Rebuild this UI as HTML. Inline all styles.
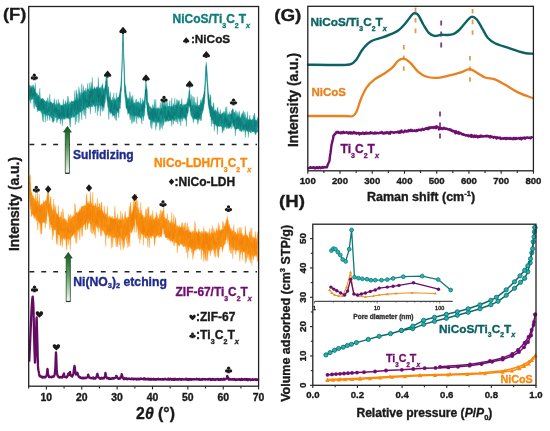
<!DOCTYPE html><html><head><meta charset="utf-8"><style>html,body{margin:0;padding:0;background:#fff;}svg{display:block;filter:blur(0.3px);}</style></head><body><svg width="550" height="431" viewBox="0 0 550 431" font-family='"Liberation Sans", sans-serif' font-weight="bold">
<rect width="550" height="431" fill="#fff"/>
<polygon points="29.30,85.43 29.80,84.95 30.30,85.53 30.80,87.25 31.30,87.13 31.80,85.49 32.30,87.70 32.80,84.98 33.30,84.85 33.80,86.27 34.30,88.01 34.80,89.67 35.30,82.47 35.80,91.94 36.30,92.87 36.80,93.72 37.30,93.40 37.80,94.74 38.30,95.62 38.80,94.98 39.30,97.51 39.80,88.13 40.30,97.11 40.80,99.04 41.30,99.40 41.80,98.40 42.30,98.86 42.80,97.93 43.30,99.06 43.80,99.71 44.30,100.01 44.80,100.90 45.30,101.75 45.80,101.44 46.30,100.23 46.80,101.80 47.30,101.52 47.80,97.53 48.30,100.61 48.80,102.69 49.30,102.56 49.80,93.94 50.30,102.26 50.80,101.51 51.30,102.28 51.80,102.18 52.30,104.15 52.80,103.02 53.30,103.24 53.80,102.34 54.30,98.59 54.80,103.36 55.30,104.99 55.80,104.20 56.30,99.73 56.80,105.12 57.30,103.38 57.80,104.72 58.30,98.88 58.80,104.38 59.30,102.60 59.80,104.50 60.30,104.39 60.80,105.78 61.30,104.87 61.80,105.36 62.30,104.81 62.80,105.60 63.30,99.01 63.80,105.09 64.30,103.68 64.80,104.67 65.30,102.90 65.80,100.24 66.30,104.91 66.80,102.71 67.30,102.32 67.80,95.99 68.30,97.45 68.80,104.37 69.30,103.95 69.80,101.44 70.30,102.31 70.80,103.16 71.30,100.73 71.80,101.19 72.30,101.14 72.80,101.46 73.30,101.07 73.80,101.33 74.30,101.69 74.80,90.74 75.30,99.78 75.80,99.25 76.30,89.58 76.80,93.87 77.30,93.68 77.80,98.29 78.30,98.94 78.80,86.88 79.30,89.93 79.80,92.78 80.30,95.80 80.80,92.24 81.30,93.40 81.80,83.45 82.30,93.40 82.80,92.62 83.30,85.39 83.80,92.24 84.30,90.94 84.80,89.99 85.30,92.35 85.80,87.94 86.30,92.45 86.80,89.69 87.30,89.29 87.80,83.18 88.30,90.23 88.80,88.66 89.30,91.22 89.80,82.38 90.30,88.11 90.80,88.88 91.30,82.32 91.80,89.46 92.30,77.38 92.80,88.57 93.30,89.15 93.80,88.60 94.30,86.52 94.80,87.87 95.30,88.72 95.80,89.00 96.30,86.62 96.80,88.44 97.30,86.55 97.80,88.22 98.30,77.16 98.80,86.88 99.30,87.43 99.80,88.00 100.30,88.53 100.80,86.86 101.30,88.80 101.80,85.17 102.30,85.37 102.80,83.51 103.30,89.78 103.80,88.31 104.30,90.29 104.80,87.30 105.30,85.10 105.80,79.72 106.30,74.66 106.80,77.20 107.30,77.06 107.80,91.00 108.30,86.33 108.80,87.37 109.30,97.30 109.80,96.20 110.30,91.87 110.80,100.13 111.30,99.40 111.80,100.39 112.30,100.31 112.80,97.00 113.30,101.07 113.80,92.64 114.30,100.47 114.80,98.05 115.30,99.70 115.80,100.76 116.30,92.61 116.80,99.51 117.30,98.08 117.80,97.36 118.30,96.84 118.80,97.53 119.30,93.85 119.80,92.11 120.30,88.83 120.80,85.08 121.30,76.36 121.80,66.42 122.30,48.27 122.80,31.53 123.30,33.25 123.80,51.69 124.30,64.73 124.80,79.29 125.30,87.72 125.80,85.40 126.30,94.58 126.80,95.10 127.30,98.31 127.80,98.51 128.30,97.54 128.80,99.28 129.30,99.02 129.80,91.38 130.30,94.78 130.80,101.81 131.30,98.70 131.80,96.31 132.30,100.76 132.80,95.06 133.30,100.94 133.80,103.33 134.30,102.65 134.80,102.82 135.30,103.49 135.80,100.00 136.30,98.78 136.80,103.35 137.30,101.98 137.80,102.32 138.30,101.07 138.80,102.69 139.30,102.48 139.80,104.49 140.30,97.84 140.80,103.36 141.30,103.43 141.80,104.78 142.30,98.68 142.80,102.72 143.30,101.54 143.80,100.46 144.30,99.74 144.80,94.84 145.30,87.81 145.80,75.84 146.30,83.73 146.80,86.79 147.30,90.62 147.80,101.82 148.30,103.01 148.80,103.31 149.30,105.82 149.80,106.84 150.30,106.79 150.80,106.65 151.30,108.47 151.80,107.83 152.30,108.63 152.80,104.38 153.30,106.84 153.80,108.17 154.30,99.42 154.80,107.80 155.30,108.74 155.80,99.14 156.30,108.46 156.80,108.12 157.30,109.18 157.80,107.31 158.30,107.79 158.80,108.57 159.30,109.18 159.80,107.23 160.30,102.38 160.80,108.89 161.30,108.80 161.80,102.24 162.30,99.17 162.80,102.53 163.30,105.90 163.80,102.56 164.30,96.04 164.80,106.39 165.30,102.43 165.80,105.89 166.30,107.48 166.80,100.06 167.30,102.74 167.80,106.48 168.30,106.27 168.80,106.04 169.30,106.37 169.80,100.47 170.30,107.87 170.80,106.49 171.30,105.71 171.80,97.79 172.30,106.85 172.80,105.98 173.30,105.27 173.80,103.38 174.30,106.76 174.80,97.91 175.30,104.64 175.80,104.95 176.30,104.61 176.80,99.25 177.30,100.25 177.80,103.88 178.30,100.19 178.80,102.00 179.30,100.67 179.80,105.47 180.30,103.92 180.80,103.97 181.30,104.11 181.80,98.37 182.30,105.12 182.80,105.02 183.30,106.09 183.80,103.83 184.30,104.62 184.80,104.97 185.30,104.39 185.80,103.70 186.30,104.29 186.80,102.47 187.30,101.24 187.80,97.89 188.30,98.45 188.80,92.13 189.30,89.60 189.80,88.13 190.30,98.50 190.80,100.78 191.30,94.44 191.80,105.02 192.30,105.63 192.80,96.02 193.30,106.11 193.80,97.01 194.30,97.66 194.80,105.46 195.30,104.67 195.80,102.10 196.30,104.25 196.80,106.14 197.30,96.57 197.80,106.36 198.30,105.09 198.80,106.08 199.30,105.02 199.80,104.65 200.30,103.05 200.80,99.60 201.30,103.49 201.80,99.94 202.30,98.99 202.80,97.29 203.30,97.00 203.80,93.72 204.30,90.16 204.80,84.66 205.30,76.72 205.80,65.83 206.30,61.95 206.80,67.03 207.30,75.07 207.80,84.59 208.30,91.50 208.80,94.49 209.30,98.78 209.80,100.50 210.30,94.52 210.80,96.02 211.30,104.99 211.80,106.32 212.30,107.62 212.80,107.33 213.30,102.53 213.80,103.82 214.30,110.94 214.80,111.49 215.30,109.57 215.80,110.07 216.30,112.37 216.80,110.70 217.30,108.85 217.80,106.89 218.30,112.65 218.80,111.70 219.30,114.23 219.80,113.64 220.30,109.31 220.80,114.59 221.30,114.26 221.80,113.77 222.30,112.77 222.80,113.20 223.30,113.12 223.80,111.25 224.30,113.63 224.80,111.43 225.30,113.87 225.80,107.13 226.30,115.03 226.80,106.48 227.30,113.94 227.80,115.53 228.30,113.56 228.80,114.40 229.30,115.05 229.80,111.58 230.30,115.12 230.80,113.68 231.30,113.83 231.80,109.93 232.30,109.51 232.80,108.56 233.30,108.91 233.80,113.18 234.30,111.99 234.80,112.17 235.30,114.53 235.80,110.27 236.30,111.53 236.80,115.87 237.30,115.67 237.80,112.01 238.30,116.38 238.80,113.72 239.30,110.93 239.80,116.52 240.30,118.43 240.80,116.86 241.30,113.82 241.80,116.51 242.30,113.36 242.80,113.08 243.30,110.42 243.80,114.68 244.30,117.64 244.80,111.94 245.30,114.62 245.80,118.40 246.30,117.57 246.80,119.91 247.30,111.43 247.80,118.65 248.30,118.95 248.80,120.24 249.30,119.06 249.80,115.11 250.30,120.25 250.80,118.67 251.30,120.45 251.80,119.92 252.30,119.30 252.80,119.51 253.30,115.20 253.80,119.48 254.30,113.11 254.80,114.37 255.30,119.52 255.80,119.88 256.30,119.98 256.80,120.56 257.30,117.97 257.80,117.73 257.80,132.26 257.30,132.15 256.80,131.97 256.30,132.91 255.80,134.67 255.30,134.38 254.80,133.56 254.30,131.84 253.80,131.68 253.30,131.37 252.80,131.60 252.30,132.16 251.80,131.03 251.30,132.73 250.80,133.12 250.30,132.26 249.80,131.64 249.30,131.74 248.80,131.54 248.30,137.49 247.80,130.79 247.30,131.85 246.80,130.01 246.30,131.04 245.80,131.43 245.30,137.76 244.80,130.09 244.30,130.37 243.80,131.81 243.30,129.44 242.80,129.65 242.30,130.55 241.80,132.24 241.30,130.79 240.80,131.38 240.30,130.13 239.80,131.01 239.30,129.59 238.80,129.33 238.30,128.59 237.80,128.48 237.30,128.58 236.80,129.02 236.30,129.42 235.80,129.75 235.30,136.02 234.80,127.32 234.30,128.88 233.80,126.22 233.30,125.12 232.80,127.64 232.30,122.22 231.80,123.67 231.30,128.97 230.80,126.81 230.30,126.92 229.80,127.43 229.30,128.51 228.80,127.83 228.30,128.80 227.80,128.52 227.30,126.73 226.80,128.98 226.30,127.46 225.80,126.62 225.30,127.66 224.80,126.83 224.30,128.80 223.80,131.00 223.30,127.84 222.80,131.69 222.30,132.94 221.80,126.74 221.30,126.96 220.80,125.95 220.30,126.30 219.80,126.20 219.30,126.55 218.80,126.82 218.30,125.65 217.80,126.92 217.30,134.60 216.80,126.25 216.30,125.87 215.80,125.76 215.30,123.63 214.80,124.45 214.30,131.32 213.80,124.25 213.30,123.30 212.80,124.06 212.30,120.24 211.80,119.95 211.30,126.41 210.80,116.85 210.30,116.81 209.80,113.96 209.30,110.94 208.80,108.52 208.30,104.77 207.80,98.65 207.30,88.99 206.80,80.63 206.30,74.44 205.80,80.06 205.30,87.82 204.80,97.03 204.30,102.56 203.80,108.29 203.30,110.34 202.80,111.78 202.30,112.99 201.80,115.41 201.30,120.80 200.80,118.09 200.30,120.86 199.80,118.16 199.30,119.58 198.80,119.40 198.30,122.25 197.80,124.47 197.30,119.71 196.80,119.99 196.30,118.56 195.80,118.95 195.30,119.33 194.80,118.08 194.30,119.83 193.80,118.58 193.30,123.04 192.80,119.19 192.30,117.66 191.80,117.26 191.30,115.86 190.80,115.45 190.30,112.49 189.80,107.56 189.30,105.84 188.80,105.62 188.30,111.59 187.80,113.35 187.30,115.81 186.80,118.29 186.30,126.74 185.80,116.95 185.30,120.52 184.80,117.71 184.30,118.56 183.80,117.28 183.30,118.81 182.80,118.53 182.30,121.55 181.80,118.18 181.30,119.07 180.80,125.92 180.30,118.99 179.80,118.84 179.30,122.31 178.80,118.52 178.30,118.54 177.80,124.12 177.30,118.51 176.80,119.53 176.30,122.12 175.80,121.85 175.30,118.14 174.80,120.57 174.30,120.80 173.80,120.09 173.30,124.44 172.80,118.85 172.30,119.74 171.80,126.53 171.30,120.25 170.80,121.10 170.30,119.81 169.80,120.54 169.30,121.12 168.80,121.10 168.30,121.43 167.80,119.90 167.30,121.55 166.80,120.63 166.30,121.55 165.80,121.78 165.30,121.30 164.80,122.68 164.30,116.88 163.80,124.27 163.30,125.80 162.80,119.97 162.30,129.08 161.80,121.09 161.30,127.68 160.80,122.24 160.30,128.19 159.80,130.55 159.30,123.30 158.80,121.00 158.30,123.30 157.80,122.43 157.30,121.85 156.80,126.77 156.30,121.59 155.80,130.37 155.30,122.27 154.80,121.47 154.30,122.84 153.80,122.77 153.30,121.19 152.80,121.53 152.30,124.02 151.80,129.17 151.30,120.74 150.80,127.63 150.30,120.30 149.80,119.91 149.30,119.39 148.80,119.16 148.30,116.89 147.80,115.55 147.30,112.69 146.80,105.28 146.30,104.36 145.80,95.35 145.30,101.93 144.80,112.96 144.30,116.00 143.80,116.63 143.30,120.90 142.80,115.90 142.30,117.03 141.80,124.13 141.30,118.96 140.80,118.36 140.30,117.85 139.80,117.39 139.30,116.63 138.80,118.66 138.30,116.04 137.80,117.25 137.30,115.94 136.80,123.78 136.30,115.91 135.80,115.23 135.30,116.74 134.80,122.06 134.30,116.86 133.80,122.12 133.30,114.67 132.80,122.98 132.30,114.46 131.80,124.11 131.30,115.85 130.80,115.43 130.30,120.20 129.80,118.03 129.30,112.52 128.80,112.51 128.30,113.93 127.80,114.53 127.30,110.49 126.80,109.21 126.30,108.80 125.80,106.19 125.30,99.83 124.80,96.43 124.30,90.26 123.80,65.15 123.30,47.94 122.80,43.86 122.30,59.94 121.80,82.79 121.30,90.40 120.80,98.75 120.30,108.67 119.80,107.97 119.30,109.62 118.80,117.96 118.30,112.65 117.80,112.81 117.30,111.59 116.80,114.00 116.30,120.63 115.80,119.99 115.30,112.68 114.80,118.44 114.30,115.59 113.80,115.57 113.30,115.65 112.80,113.99 112.30,116.85 111.80,113.23 111.30,113.11 110.80,112.25 110.30,114.14 109.80,111.70 109.30,111.59 108.80,119.78 108.30,108.46 107.80,107.49 107.30,101.71 106.80,99.02 106.30,92.73 105.80,96.65 105.30,102.04 104.80,103.81 104.30,107.26 103.80,110.87 103.30,107.49 102.80,106.67 102.30,111.57 101.80,109.46 101.30,105.03 100.80,106.14 100.30,116.37 99.80,104.88 99.30,105.48 98.80,107.51 98.30,111.58 97.80,104.53 97.30,115.69 96.80,104.51 96.30,105.95 95.80,106.25 95.30,112.92 94.80,105.03 94.30,106.84 93.80,104.31 93.30,104.79 92.80,107.20 92.30,105.71 91.80,107.03 91.30,106.01 90.80,107.00 90.30,114.25 89.80,107.03 89.30,106.49 88.80,106.42 88.30,108.71 87.80,107.63 87.30,107.78 86.80,107.28 86.30,107.64 85.80,118.92 85.30,108.52 84.80,109.64 84.30,115.75 83.80,114.09 83.30,108.86 82.80,110.49 82.30,111.25 81.80,119.91 81.30,111.35 80.80,112.64 80.30,111.54 79.80,111.40 79.30,118.88 78.80,122.94 78.30,114.03 77.80,114.31 77.30,113.86 76.80,122.30 76.30,114.11 75.80,115.99 75.30,124.91 74.80,116.90 74.30,116.86 73.80,117.39 73.30,116.65 72.80,117.77 72.30,115.58 71.80,117.88 71.30,117.14 70.80,118.96 70.30,127.42 69.80,125.14 69.30,119.22 68.80,119.09 68.30,118.61 67.80,117.88 67.30,118.56 66.80,117.50 66.30,118.43 65.80,119.34 65.30,117.52 64.80,117.45 64.30,119.84 63.80,118.11 63.30,119.55 62.80,118.19 62.30,125.92 61.80,119.88 61.30,117.78 60.80,120.19 60.30,124.33 59.80,117.50 59.30,118.96 58.80,118.16 58.30,119.73 57.80,119.29 57.30,120.81 56.80,122.90 56.30,117.64 55.80,117.01 55.30,117.90 54.80,116.37 54.30,120.74 53.80,121.10 53.30,122.83 52.80,120.47 52.30,122.22 51.80,118.11 51.30,117.89 50.80,116.23 50.30,116.84 49.80,120.77 49.30,117.09 48.80,115.12 48.30,115.43 47.80,115.25 47.30,120.77 46.80,115.01 46.30,115.38 45.80,114.97 45.30,122.58 44.80,114.98 44.30,113.76 43.80,113.54 43.30,121.91 42.80,120.80 42.30,116.69 41.80,113.09 41.30,112.85 40.80,111.94 40.30,110.34 39.80,111.10 39.30,110.41 38.80,111.37 38.30,109.77 37.80,109.92 37.30,111.90 36.80,106.86 36.30,107.06 35.80,106.64 35.30,105.40 34.80,101.96 34.30,108.75 33.80,107.56 33.30,99.61 32.80,98.72 32.30,99.51 31.80,99.59 31.30,99.22 30.80,103.60 30.30,99.74 29.80,98.74 29.30,101.16" fill="#169490" stroke="#169490" stroke-width="0.3" stroke-linejoin="bevel"/>
<polyline points="29.30,96.07 29.60,95.37 29.90,90.50 30.20,98.31 30.50,89.31 30.80,92.46 31.10,88.15 31.40,95.61 31.70,87.76 32.00,88.96 32.30,97.04 32.60,93.06 32.90,95.11 33.20,96.00 33.50,94.37 33.80,88.95 34.10,96.73 34.40,89.40 34.70,92.51 35.00,95.91 35.30,92.13 35.60,92.77 35.90,101.14 36.20,103.05 36.50,98.47 36.80,99.33 37.10,97.32 37.40,102.24 37.70,103.53 38.00,108.79 38.30,96.53 38.60,108.92 38.90,110.29 39.20,101.49 39.50,107.02 39.80,108.62 40.10,106.40 40.40,101.54 40.70,106.42 41.00,110.18 41.30,99.60 41.60,105.02 41.90,98.82 42.20,110.53 42.50,109.80 42.80,99.74 43.10,109.74 43.40,109.17 43.70,101.45 44.00,107.20 44.30,109.65 44.60,104.81 44.90,107.29 45.20,114.01 45.50,109.36 45.80,107.61 46.10,101.62 46.40,102.50 46.70,112.83 47.00,111.43 47.30,112.84 47.60,109.36 47.90,109.44 48.20,108.92 48.50,111.90 48.80,106.35 49.10,108.79 49.40,108.53 49.70,111.33 50.00,105.20 50.30,102.64 50.60,103.64 50.90,105.03 51.20,114.63 51.50,112.78 51.80,113.36 52.10,109.17 52.40,104.47 52.70,109.62 53.00,115.27 53.30,110.39 53.60,112.18 53.90,108.65 54.20,105.59 54.50,112.33 54.80,110.43 55.10,108.55 55.40,107.40 55.70,113.60 56.00,108.39 56.30,112.07 56.60,107.72 56.90,114.71 57.20,109.49 57.50,111.01 57.80,117.37 58.10,114.52 58.40,114.84 58.70,109.36 59.00,116.45 59.30,110.16 59.60,118.67 59.90,117.43 60.20,114.13 60.50,116.54 60.80,112.46 61.10,115.10 61.40,106.46 61.70,118.68 62.00,115.98 62.30,106.56 62.60,107.95 62.90,112.67 63.20,115.34 63.50,106.46 63.80,118.15 64.10,109.22 64.40,118.61 64.70,115.06 65.00,111.14 65.30,109.31 65.60,105.36 65.90,105.18 66.20,113.12 66.50,115.22 66.80,117.18 67.10,109.10 67.40,117.58 67.70,108.00 68.00,117.58 68.30,117.24 68.60,105.69 68.90,116.21 69.20,113.70 69.50,113.54 69.80,115.50 70.10,110.74 70.40,110.14 70.70,107.85 71.00,115.33 71.30,115.75 71.60,104.21 71.90,113.49 72.20,105.67 72.50,104.09 72.80,104.14 73.10,109.84 73.40,105.11 73.70,104.36 74.00,101.95 74.30,105.34 74.60,112.27 74.90,100.25 75.20,107.38 75.50,109.13 75.80,100.19 76.10,103.92 76.40,113.54 76.70,114.79 77.00,112.26 77.30,101.07 77.60,110.38 77.90,105.07 78.20,100.27 78.50,105.03 78.80,111.96 79.10,110.97 79.40,102.79 79.70,97.15 80.00,110.61 80.30,111.77 80.60,103.71 80.90,98.72 81.20,103.72 81.50,105.99 81.80,102.18 82.10,99.76 82.40,97.74 82.70,98.29 83.00,93.89 83.30,97.06 83.60,108.54 83.90,92.35 84.20,104.23 84.50,105.02 84.80,98.24 85.10,101.37 85.40,94.89 85.70,102.39 86.00,102.96 86.30,103.31 86.60,99.05 86.90,107.13 87.20,105.24 87.50,100.09 87.80,101.87 88.10,94.75 88.40,106.15 88.70,100.90 89.00,105.10 89.30,94.52 89.60,106.40 89.90,91.12 90.20,98.36 90.50,90.96 90.80,92.22 91.10,102.08 91.40,89.82 91.70,95.22 92.00,91.77 92.30,103.14 92.60,89.61 92.90,93.97 93.20,103.04 93.50,100.09 93.80,100.41 94.10,105.50 94.40,88.52 94.70,99.83 95.00,101.27 95.30,101.36 95.60,100.79 95.90,89.47 96.20,89.70 96.50,101.92 96.80,99.09 97.10,92.92 97.40,88.43 97.70,97.77 98.00,89.89 98.30,101.63 98.60,94.38 98.90,102.73 99.20,90.01 99.50,97.14 99.80,90.07 100.10,102.27 100.40,98.31 100.70,92.45 101.00,105.61 101.30,100.69 101.60,94.73 101.90,104.13 102.20,95.92 102.50,105.91 102.80,94.80 103.10,106.73 103.40,90.91 103.70,102.34 104.00,94.61 104.30,96.57 104.60,99.39 104.90,88.55 105.20,89.89 105.50,85.28 105.80,92.44 106.10,80.79 106.40,83.80 106.70,83.21 107.00,85.34 107.30,100.66 107.60,96.71 107.90,101.30 108.20,103.71 108.50,106.67 108.80,99.17 109.10,97.12 109.40,103.62 109.70,99.75 110.00,98.07 110.30,111.72 110.60,107.81 110.90,105.12 111.20,101.51 111.50,110.74 111.80,107.83 112.10,102.92 112.40,114.33 112.70,113.88 113.00,113.53 113.30,112.10 113.60,107.93 113.90,104.65 114.20,109.51 114.50,102.44 114.80,108.88 115.10,101.07 115.40,100.23 115.70,109.93 116.00,104.56 116.30,109.36 116.60,110.32 116.90,110.87 117.20,107.53 117.50,110.44 117.80,107.47 118.10,110.77 118.40,109.83 118.70,97.26 119.00,99.62 119.30,100.46 119.60,97.31 119.90,94.82 120.20,102.73 120.50,88.34 120.80,87.69 121.10,91.22 121.40,78.18 121.70,71.24 122.00,71.42 122.30,57.63 122.60,43.18 122.90,32.57 123.20,35.85 123.50,53.66 123.80,62.06 124.10,62.29 124.40,80.34 124.70,82.49 125.00,92.34 125.30,90.57 125.60,90.87 125.90,91.64 126.20,97.22 126.50,106.47 126.80,108.07 127.10,105.99 127.40,107.64 127.70,100.50 128.00,103.25 128.30,111.35 128.60,112.95 128.90,105.70 129.20,110.66 129.50,113.13 129.80,114.27 130.10,104.66 130.40,109.87 130.70,106.35 131.00,107.56 131.30,107.66 131.60,105.23 131.90,101.72 132.20,112.30 132.50,111.42 132.80,113.55 133.10,104.02 133.40,105.28 133.70,110.39 134.00,115.23 134.30,108.80 134.60,105.07 134.90,110.65 135.20,115.79 135.50,114.60 135.80,115.09 136.10,108.34 136.40,106.36 136.70,114.98 137.00,113.93 137.30,114.91 137.60,108.57 137.90,107.19 138.20,106.63 138.50,115.54 138.80,116.30 139.10,108.64 139.40,115.81 139.70,108.97 140.00,109.95 140.30,111.65 140.60,106.84 140.90,107.49 141.20,107.47 141.50,107.34 141.80,110.87 142.10,104.94 142.40,114.31 142.70,105.61 143.00,109.05 143.30,111.43 143.60,103.70 143.90,106.63 144.20,107.55 144.50,105.44 144.80,107.95 145.10,102.48 145.40,89.06 145.70,94.60 146.00,89.69 146.30,92.28 146.60,89.93 146.90,98.84 147.20,105.84 147.50,109.96 147.80,112.30 148.10,105.36 148.40,115.12 148.70,112.24 149.00,114.29 149.30,117.40 149.60,111.56 149.90,119.13 150.20,118.91 150.50,118.15 150.80,112.41 151.10,114.64 151.40,109.80 151.70,118.10 152.00,120.01 152.30,109.86 152.60,118.09 152.90,117.43 153.20,108.26 153.50,120.63 153.80,114.53 154.10,111.62 154.40,108.30 154.70,118.85 155.00,112.65 155.30,115.13 155.60,110.68 155.90,116.47 156.20,113.54 156.50,119.28 156.80,117.33 157.10,118.11 157.40,111.53 157.70,108.91 158.00,120.33 158.30,121.11 158.60,117.02 158.90,120.91 159.20,117.88 159.50,116.46 159.80,113.83 160.10,112.92 160.40,114.77 160.70,110.99 161.00,113.81 161.30,114.87 161.60,108.10 161.90,113.03 162.20,111.32 162.50,115.89 162.80,118.00 163.10,114.47 163.40,114.27 163.70,112.44 164.00,107.17 164.30,109.00 164.60,116.60 164.90,118.93 165.20,108.86 165.50,106.85 165.80,120.38 166.10,119.06 166.40,115.62 166.70,118.57 167.00,115.46 167.30,119.78 167.60,110.52 167.90,113.29 168.20,116.40 168.50,110.01 168.80,116.92 169.10,110.55 169.40,116.73 169.70,117.98 170.00,112.62 170.30,120.44 170.60,115.38 170.90,117.05 171.20,106.74 171.50,107.96 171.80,116.22 172.10,119.37 172.40,114.92 172.70,118.81 173.00,106.86 173.30,118.37 173.60,118.09 173.90,114.56 174.20,111.72 174.50,115.47 174.80,108.99 175.10,114.80 175.40,115.10 175.70,112.88 176.00,108.91 176.30,105.25 176.60,107.87 176.90,116.64 177.20,107.94 177.50,105.94 177.80,108.26 178.10,111.96 178.40,112.80 178.70,116.76 179.00,116.41 179.30,117.97 179.60,116.83 179.90,110.84 180.20,106.60 180.50,117.90 180.80,107.86 181.10,113.33 181.40,108.40 181.70,116.06 182.00,107.55 182.30,110.61 182.60,107.83 182.90,116.71 183.20,113.37 183.50,113.52 183.80,109.13 184.10,107.20 184.40,116.58 184.70,115.25 185.00,114.76 185.30,118.31 185.60,112.13 185.90,106.71 186.20,112.45 186.50,107.70 186.80,110.47 187.10,109.14 187.40,109.83 187.70,113.70 188.00,110.54 188.30,103.18 188.60,105.97 188.90,104.34 189.20,102.02 189.50,100.11 189.80,107.22 190.10,104.16 190.40,101.06 190.70,104.91 191.00,111.32 191.30,108.36 191.60,109.47 191.90,109.63 192.20,107.04 192.50,105.92 192.80,105.51 193.10,114.22 193.40,109.54 193.70,111.45 194.00,118.09 194.30,113.90 194.60,116.45 194.90,115.81 195.20,118.46 195.50,106.29 195.80,110.67 196.10,118.45 196.40,111.77 196.70,118.39 197.00,107.87 197.30,106.12 197.60,117.52 197.90,110.79 198.20,112.03 198.50,117.78 198.80,107.81 199.10,117.91 199.40,109.87 199.70,107.60 200.00,107.15 200.30,110.76 200.60,109.69 200.90,115.04 201.20,103.13 201.50,102.49 201.80,103.40 202.10,108.85 202.40,110.43 202.70,105.33 203.00,105.99 203.30,105.11 203.60,94.85 203.90,96.00 204.20,103.88 204.50,91.63 204.80,96.59 205.10,85.46 205.40,76.57 205.70,67.80 206.00,66.85 206.30,65.31 206.60,70.06 206.90,74.24 207.20,81.57 207.50,85.93 207.80,85.00 208.10,91.85 208.40,104.64 208.70,94.47 209.00,106.25 209.30,104.64 209.60,109.25 209.90,105.50 210.20,107.16 210.50,110.17 210.80,116.47 211.10,109.31 211.40,106.73 211.70,106.72 212.00,118.80 212.30,111.61 212.60,109.44 212.90,116.39 213.20,120.18 213.50,117.22 213.80,111.48 214.10,115.26 214.40,113.68 214.70,110.56 215.00,123.76 215.30,117.12 215.60,112.95 215.90,123.39 216.20,124.97 216.50,122.88 216.80,115.43 217.10,114.73 217.40,119.42 217.70,120.33 218.00,124.44 218.30,125.75 218.60,125.08 218.90,117.49 219.20,120.87 219.50,114.72 219.80,120.14 220.10,114.18 220.40,114.81 220.70,115.04 221.00,117.53 221.30,117.71 221.60,123.09 221.90,114.71 222.20,115.25 222.50,122.62 222.80,122.90 223.10,123.45 223.40,123.64 223.70,122.92 224.00,121.50 224.30,124.06 224.60,115.33 224.90,117.11 225.20,124.19 225.50,116.94 225.80,121.47 226.10,117.92 226.40,120.22 226.70,125.59 227.00,123.32 227.30,120.49 227.60,118.24 227.90,125.27 228.20,123.32 228.50,120.45 228.80,126.09 229.10,123.72 229.40,127.45 229.70,123.21 230.00,126.16 230.30,121.42 230.60,123.20 230.90,124.54 231.20,114.13 231.50,118.30 231.80,119.04 232.10,111.04 232.40,120.16 232.70,119.72 233.00,123.54 233.30,117.39 233.60,119.49 233.90,125.95 234.20,119.96 234.50,125.80 234.80,120.77 235.10,119.91 235.40,119.32 235.70,118.66 236.00,121.60 236.30,118.26 236.60,126.93 236.90,128.91 237.20,117.75 237.50,117.29 237.80,116.73 238.10,128.69 238.40,117.79 238.70,125.61 239.00,120.88 239.30,119.60 239.60,120.29 239.90,126.00 240.20,117.53 240.50,128.36 240.80,124.65 241.10,120.50 241.40,120.22 241.70,125.93 242.00,125.67 242.30,121.80 242.60,122.06 242.90,123.76 243.20,129.45 243.50,124.82 243.80,128.68 244.10,126.23 244.40,125.30 244.70,124.45 245.00,126.90 245.30,124.59 245.60,127.58 245.90,120.84 246.20,122.66 246.50,129.59 246.80,123.69 247.10,129.32 247.40,130.56 247.70,126.14 248.00,120.28 248.30,128.47 248.60,127.39 248.90,122.80 249.20,129.94 249.50,125.30 249.80,120.10 250.10,120.29 250.40,122.33 250.70,127.09 251.00,129.67 251.30,120.92 251.60,120.04 251.90,127.47 252.20,124.91 252.50,125.36 252.80,130.06 253.10,131.31 253.40,131.96 253.70,129.71 254.00,120.28 254.30,122.11 254.60,127.43 254.90,131.90 255.20,121.29 255.50,126.55 255.80,125.12 256.10,125.25 256.40,123.58 256.70,123.61 257.00,123.22 257.30,121.59 257.60,127.03" fill="none" stroke="#0a6a68" stroke-width="0.6" stroke-opacity="0.55"/>
<polygon points="29.30,175.77 29.80,177.83 30.30,174.53 30.80,187.61 31.30,192.39 31.80,192.18 32.30,195.51 32.80,195.58 33.30,195.93 33.80,198.24 34.30,198.68 34.80,198.53 35.30,201.01 35.80,193.19 36.30,202.06 36.80,202.17 37.30,190.77 37.80,200.47 38.30,200.93 38.80,204.30 39.30,194.44 39.80,204.40 40.30,205.23 40.80,205.57 41.30,203.91 41.80,203.95 42.30,204.32 42.80,203.88 43.30,200.39 43.80,203.15 44.30,201.85 44.80,201.34 45.30,200.62 45.80,200.19 46.30,201.65 46.80,197.88 47.30,192.88 47.80,185.08 48.30,194.12 48.80,192.79 49.30,203.00 49.80,204.25 50.30,198.10 50.80,196.38 51.30,208.53 51.80,204.73 52.30,209.79 52.80,210.10 53.30,209.01 53.80,198.89 54.30,212.89 54.80,204.18 55.30,211.69 55.80,206.18 56.30,214.01 56.80,213.03 57.30,213.98 57.80,215.31 58.30,205.27 58.80,214.81 59.30,217.55 59.80,217.01 60.30,217.24 60.80,215.40 61.30,211.66 61.80,218.17 62.30,219.12 62.80,208.53 63.30,211.75 63.80,220.72 64.30,217.97 64.80,218.97 65.30,221.18 65.80,218.84 66.30,221.60 66.80,220.04 67.30,223.16 67.80,221.87 68.30,213.66 68.80,219.14 69.30,215.43 69.80,219.47 70.30,214.27 70.80,218.90 71.30,218.60 71.80,215.69 72.30,216.40 72.80,216.96 73.30,216.60 73.80,214.53 74.30,216.62 74.80,203.28 75.30,205.53 75.80,213.77 76.30,212.19 76.80,212.89 77.30,213.37 77.80,211.80 78.30,212.75 78.80,212.18 79.30,210.39 79.80,208.46 80.30,210.44 80.80,208.86 81.30,206.57 81.80,206.72 82.30,206.00 82.80,206.46 83.30,206.36 83.80,205.96 84.30,205.45 84.80,205.55 85.30,205.53 85.80,205.57 86.30,197.09 86.80,193.22 87.30,202.21 87.80,202.62 88.30,203.71 88.80,201.17 89.30,204.47 89.80,201.28 90.30,191.42 90.80,199.05 91.30,204.16 91.80,202.83 92.30,206.31 92.80,191.98 93.30,204.87 93.80,206.02 94.30,205.90 94.80,205.65 95.30,203.01 95.80,204.47 96.30,205.95 96.80,208.50 97.30,198.27 97.80,207.37 98.30,207.05 98.80,207.13 99.30,202.93 99.80,203.51 100.30,207.45 100.80,209.96 101.30,202.56 101.80,201.97 102.30,211.82 102.80,210.21 103.30,212.14 103.80,214.40 104.30,205.99 104.80,213.66 105.30,212.90 105.80,216.36 106.30,213.65 106.80,214.01 107.30,205.98 107.80,216.13 108.30,217.70 108.80,216.30 109.30,218.20 109.80,215.30 110.30,218.22 110.80,216.53 111.30,216.73 111.80,218.14 112.30,218.67 112.80,216.08 113.30,219.58 113.80,218.87 114.30,218.71 114.80,206.09 115.30,213.75 115.80,219.89 116.30,218.24 116.80,217.76 117.30,217.95 117.80,213.68 118.30,219.71 118.80,220.97 119.30,219.07 119.80,218.82 120.30,219.65 120.80,210.82 121.30,220.79 121.80,218.56 122.30,213.07 122.80,218.45 123.30,218.46 123.80,221.20 124.30,218.37 124.80,213.70 125.30,211.48 125.80,217.01 126.30,217.95 126.80,217.57 127.30,219.08 127.80,216.64 128.30,217.54 128.80,216.51 129.30,206.12 129.80,213.29 130.30,203.06 130.80,202.18 131.30,214.55 131.80,213.31 132.30,210.25 132.80,212.04 133.30,198.61 133.80,207.67 134.30,205.55 134.80,196.71 135.30,201.75 135.80,202.86 136.30,193.81 136.80,206.41 137.30,209.76 137.80,200.71 138.30,211.49 138.80,207.58 139.30,212.91 139.80,213.31 140.30,212.74 140.80,202.50 141.30,215.10 141.80,209.99 142.30,216.12 142.80,214.64 143.30,215.45 143.80,218.34 144.30,217.41 144.80,216.34 145.30,217.58 145.80,208.84 146.30,216.53 146.80,209.16 147.30,218.29 147.80,207.21 148.30,209.49 148.80,206.55 149.30,219.36 149.80,215.18 150.30,216.87 150.80,215.41 151.30,219.35 151.80,213.95 152.30,218.93 152.80,210.45 153.30,218.37 153.80,219.14 154.30,220.00 154.80,217.77 155.30,217.84 155.80,216.79 156.30,211.84 156.80,216.99 157.30,214.94 157.80,219.35 158.30,218.46 158.80,217.83 159.30,213.57 159.80,219.48 160.30,209.70 160.80,218.62 161.30,210.26 161.80,215.72 162.30,211.93 162.80,210.88 163.30,211.87 163.80,204.55 164.30,216.98 164.80,216.93 165.30,219.59 165.80,218.28 166.30,218.78 166.80,218.89 167.30,213.43 167.80,221.76 168.30,220.57 168.80,219.84 169.30,222.30 169.80,223.62 170.30,223.28 170.80,220.81 171.30,224.44 171.80,212.20 172.30,224.60 172.80,221.97 173.30,224.06 173.80,214.29 174.30,223.38 174.80,224.61 175.30,217.42 175.80,218.90 176.30,224.94 176.80,226.04 177.30,227.38 177.80,225.48 178.30,226.88 178.80,227.04 179.30,225.07 179.80,227.13 180.30,228.26 180.80,226.55 181.30,227.08 181.80,222.79 182.30,228.15 182.80,222.48 183.30,228.79 183.80,226.45 184.30,227.31 184.80,222.71 185.30,222.85 185.80,230.64 186.30,230.15 186.80,225.07 187.30,222.63 187.80,230.93 188.30,229.69 188.80,226.45 189.30,229.96 189.80,232.15 190.30,232.37 190.80,231.25 191.30,232.83 191.80,232.79 192.30,230.99 192.80,231.79 193.30,233.09 193.80,230.32 194.30,232.18 194.80,221.35 195.30,224.23 195.80,231.41 196.30,232.16 196.80,231.32 197.30,232.89 197.80,232.89 198.30,230.74 198.80,228.61 199.30,232.57 199.80,231.34 200.30,232.85 200.80,232.77 201.30,230.89 201.80,233.43 202.30,233.35 202.80,231.10 203.30,233.31 203.80,227.01 204.30,231.25 204.80,233.28 205.30,230.94 205.80,231.60 206.30,231.55 206.80,233.79 207.30,233.86 207.80,232.02 208.30,231.80 208.80,233.96 209.30,234.07 209.80,228.18 210.30,234.26 210.80,233.17 211.30,232.79 211.80,228.70 212.30,225.76 212.80,233.61 213.30,233.78 213.80,228.09 214.30,233.35 214.80,230.61 215.30,232.49 215.80,233.21 216.30,227.88 216.80,230.07 217.30,230.59 217.80,230.98 218.30,222.60 218.80,231.59 219.30,224.73 219.80,229.89 220.30,229.74 220.80,230.66 221.30,229.16 221.80,229.66 222.30,229.26 222.80,221.09 223.30,230.06 223.80,221.91 224.30,226.47 224.80,225.88 225.30,224.16 225.80,222.50 226.30,220.05 226.80,218.76 227.30,216.37 227.80,219.76 228.30,220.70 228.80,225.41 229.30,224.19 229.80,225.93 230.30,229.46 230.80,228.14 231.30,228.55 231.80,231.75 232.30,230.33 232.80,231.17 233.30,230.78 233.80,224.50 234.30,230.93 234.80,232.93 235.30,231.96 235.80,232.13 236.30,234.23 236.80,234.00 237.30,233.39 237.80,227.81 238.30,234.16 238.80,232.82 239.30,227.33 239.80,233.90 240.30,233.42 240.80,227.35 241.30,228.71 241.80,233.86 242.30,236.27 242.80,233.44 243.30,236.03 243.80,236.12 244.30,235.14 244.80,235.03 245.30,225.83 245.80,230.99 246.30,234.32 246.80,235.58 247.30,235.01 247.80,236.43 248.30,237.99 248.80,238.37 249.30,232.41 249.80,231.52 250.30,237.40 250.80,228.09 251.30,238.64 251.80,227.90 252.30,238.71 252.80,236.70 253.30,239.31 253.80,236.78 254.30,237.31 254.80,239.11 255.30,231.51 255.80,238.77 256.30,239.33 256.80,238.32 257.30,233.83 257.80,231.38 257.80,255.35 257.30,261.93 256.80,256.24 256.30,255.31 255.80,256.76 255.30,254.31 254.80,256.45 254.30,255.17 253.80,256.78 253.30,260.13 252.80,254.80 252.30,257.54 251.80,265.48 251.30,253.77 250.80,259.46 250.30,262.86 249.80,253.71 249.30,260.25 248.80,256.90 248.30,252.88 247.80,258.41 247.30,255.03 246.80,252.02 246.30,262.19 245.80,256.74 245.30,263.34 244.80,251.82 244.30,252.36 243.80,252.32 243.30,251.30 242.80,251.90 242.30,260.32 241.80,251.97 241.30,251.42 240.80,252.50 240.30,255.19 239.80,261.45 239.30,249.84 238.80,249.40 238.30,251.83 237.80,249.93 237.30,249.96 236.80,249.92 236.30,251.45 235.80,254.80 235.30,249.41 234.80,250.78 234.30,247.50 233.80,250.15 233.30,248.43 232.80,258.87 232.30,247.58 231.80,247.02 231.30,253.93 230.80,246.22 230.30,253.16 229.80,244.61 229.30,251.01 228.80,242.50 228.30,240.05 227.80,235.97 227.30,243.60 226.80,234.21 226.30,239.67 225.80,239.68 225.30,244.37 224.80,244.80 224.30,243.66 223.80,245.69 223.30,248.13 222.80,249.73 222.30,252.33 221.80,246.91 221.30,246.87 220.80,246.63 220.30,246.66 219.80,250.03 219.30,246.91 218.80,257.48 218.30,257.40 217.80,248.63 217.30,256.64 216.80,249.06 216.30,248.41 215.80,250.31 215.30,257.78 214.80,249.86 214.30,256.38 213.80,250.22 213.30,249.93 212.80,249.63 212.30,248.56 211.80,251.34 211.30,250.58 210.80,250.45 210.30,255.91 209.80,251.89 209.30,250.35 208.80,251.28 208.30,250.03 207.80,261.37 207.30,255.78 206.80,248.96 206.30,261.36 205.80,257.30 205.30,260.61 204.80,251.64 204.30,255.38 203.80,261.53 203.30,254.95 202.80,249.20 202.30,250.82 201.80,249.05 201.30,259.65 200.80,248.43 200.30,249.11 199.80,250.57 199.30,248.94 198.80,248.95 198.30,248.46 197.80,248.76 197.30,248.70 196.80,248.87 196.30,249.93 195.80,249.04 195.30,250.71 194.80,250.96 194.30,250.32 193.80,254.13 193.30,255.85 192.80,259.54 192.30,249.62 191.80,253.37 191.30,248.18 190.80,249.10 190.30,247.81 189.80,246.84 189.30,247.75 188.80,251.42 188.30,249.11 187.80,258.47 187.30,247.72 186.80,246.63 186.30,252.96 185.80,248.40 185.30,245.85 184.80,246.39 184.30,245.91 183.80,246.55 183.30,246.64 182.80,246.43 182.30,244.21 181.80,244.56 181.30,243.66 180.80,243.74 180.30,243.99 179.80,245.23 179.30,246.24 178.80,244.82 178.30,245.51 177.80,244.60 177.30,252.98 176.80,243.54 176.30,242.83 175.80,242.72 175.30,242.87 174.80,240.85 174.30,245.93 173.80,245.38 173.30,240.12 172.80,242.53 172.30,241.30 171.80,241.19 171.30,240.92 170.80,239.39 170.30,241.97 169.80,239.34 169.30,240.74 168.80,238.81 168.30,237.91 167.80,240.09 167.30,237.45 166.80,237.60 166.30,238.01 165.80,237.35 165.30,237.73 164.80,234.74 164.30,233.02 163.80,234.10 163.30,228.29 162.80,228.53 162.30,230.84 161.80,237.46 161.30,234.78 160.80,236.63 160.30,236.72 159.80,234.65 159.30,237.99 158.80,235.94 158.30,236.35 157.80,235.10 157.30,235.33 156.80,236.69 156.30,235.55 155.80,237.89 155.30,237.36 154.80,245.87 154.30,243.93 153.80,237.46 153.30,236.37 152.80,235.76 152.30,236.35 151.80,236.05 151.30,238.54 150.80,236.10 150.30,237.87 149.80,235.45 149.30,247.91 148.80,238.32 148.30,237.16 147.80,247.14 147.30,236.36 146.80,236.12 146.30,238.84 145.80,236.97 145.30,238.00 144.80,237.56 144.30,235.87 143.80,233.55 143.30,245.53 142.80,233.97 142.30,234.97 141.80,233.72 141.30,232.70 140.80,239.94 140.30,231.32 139.80,243.65 139.30,230.45 138.80,232.38 138.30,238.76 137.80,229.40 137.30,226.85 136.80,224.16 136.30,232.45 135.80,219.79 135.30,219.10 134.80,232.59 134.30,224.51 133.80,226.51 133.30,228.55 132.80,229.39 132.30,230.96 131.80,233.11 131.30,232.17 130.80,231.58 130.30,233.32 129.80,246.26 129.30,236.05 128.80,246.60 128.30,240.30 127.80,248.11 127.30,235.12 126.80,243.36 126.30,235.98 125.80,236.68 125.30,238.45 124.80,240.11 124.30,247.47 123.80,241.14 123.30,249.86 122.80,246.38 122.30,240.31 121.80,239.14 121.30,237.93 120.80,250.38 120.30,237.55 119.80,237.02 119.30,245.38 118.80,239.71 118.30,237.21 117.80,247.11 117.30,244.44 116.80,237.46 116.30,247.23 115.80,243.77 115.30,236.23 114.80,238.33 114.30,237.30 113.80,237.99 113.30,236.46 112.80,247.35 112.30,238.58 111.80,236.15 111.30,248.25 110.80,236.72 110.30,235.35 109.80,237.43 109.30,235.34 108.80,235.31 108.30,238.74 107.80,235.60 107.30,233.95 106.80,235.68 106.30,234.81 105.80,246.50 105.30,235.39 104.80,234.69 104.30,232.73 103.80,231.25 103.30,231.16 102.80,229.95 102.30,229.85 101.80,236.01 101.30,228.69 100.80,236.43 100.30,230.60 99.80,228.82 99.30,227.55 98.80,226.09 98.30,232.47 97.80,228.82 97.30,227.08 96.80,227.54 96.30,225.09 95.80,226.05 95.30,238.10 94.80,226.56 94.30,235.46 93.80,231.00 93.30,230.81 92.80,234.03 92.30,224.48 91.80,233.67 91.30,224.98 90.80,232.31 90.30,224.33 89.80,223.36 89.30,221.32 88.80,223.79 88.30,222.27 87.80,229.55 87.30,227.97 86.80,222.74 86.30,221.99 85.80,230.15 85.30,229.85 84.80,223.74 84.30,224.60 83.80,225.01 83.30,226.17 82.80,228.13 82.30,235.80 81.80,236.63 81.30,226.34 80.80,227.26 80.30,230.22 79.80,240.47 79.30,228.03 78.80,230.45 78.30,231.85 77.80,229.71 77.30,235.78 76.80,243.45 76.30,231.77 75.80,243.49 75.30,232.87 74.80,238.43 74.30,234.16 73.80,233.02 73.30,235.08 72.80,235.35 72.30,235.90 71.80,237.18 71.30,236.52 70.80,239.42 70.30,250.50 69.80,239.63 69.30,239.74 68.80,238.61 68.30,245.58 67.80,239.13 67.30,239.00 66.80,250.20 66.30,247.05 65.80,240.87 65.30,237.71 64.80,237.31 64.30,240.17 63.80,238.22 63.30,238.21 62.80,239.46 62.30,247.33 61.80,241.98 61.30,236.54 60.80,244.73 60.30,245.78 59.80,235.72 59.30,234.91 58.80,234.69 58.30,235.29 57.80,244.85 57.30,232.04 56.80,244.44 56.30,241.08 55.80,229.94 55.30,230.41 54.80,229.93 54.30,229.72 53.80,230.23 53.30,236.56 52.80,229.63 52.30,240.13 51.80,226.04 51.30,228.05 50.80,224.33 50.30,224.65 49.80,230.14 49.30,221.43 48.80,216.21 48.30,216.61 47.80,208.80 47.30,213.43 46.80,218.20 46.30,223.85 45.80,220.87 45.30,228.24 44.80,223.43 44.30,222.37 43.80,223.12 43.30,222.07 42.80,222.18 42.30,222.81 41.80,234.13 41.30,234.04 40.80,223.29 40.30,233.90 39.80,223.03 39.30,223.62 38.80,221.01 38.30,222.10 37.80,230.38 37.30,221.31 36.80,218.45 36.30,221.27 35.80,219.18 35.30,216.95 34.80,216.73 34.30,219.28 33.80,217.05 33.30,215.63 32.80,214.12 32.30,214.50 31.80,216.19 31.30,216.50 30.80,209.15 30.30,209.24 29.80,199.65 29.30,195.81" fill="#fa9214" stroke="#fa9214" stroke-width="0.3" stroke-linejoin="bevel"/>
<polyline points="29.30,182.61 29.60,184.89 29.90,182.91 30.20,189.16 30.50,192.34 30.80,202.12 31.10,197.98 31.40,205.90 31.70,201.69 32.00,200.69 32.30,198.09 32.60,200.09 32.90,213.53 33.20,205.58 33.50,203.36 33.80,202.00 34.10,214.92 34.40,212.00 34.70,212.15 35.00,214.56 35.30,204.12 35.60,213.73 35.90,201.45 36.20,213.08 36.50,206.90 36.80,213.74 37.10,205.79 37.40,208.56 37.70,214.94 38.00,220.42 38.30,209.33 38.60,206.39 38.90,205.87 39.20,216.63 39.50,221.22 39.80,204.79 40.10,211.38 40.40,208.25 40.70,223.32 41.00,207.57 41.30,206.25 41.60,219.50 41.90,223.81 42.20,219.39 42.50,206.66 42.80,212.14 43.10,214.14 43.40,221.23 43.70,218.28 44.00,204.83 44.30,212.15 44.60,218.12 44.90,213.32 45.20,215.33 45.50,220.62 45.80,220.31 46.10,216.73 46.40,210.60 46.70,204.07 47.00,199.26 47.30,197.16 47.60,204.70 47.90,206.85 48.20,210.36 48.50,213.77 48.80,204.36 49.10,207.06 49.40,206.02 49.70,213.89 50.00,222.60 50.30,219.85 50.60,214.40 50.90,209.74 51.20,223.46 51.50,225.06 51.80,223.15 52.10,214.43 52.40,216.70 52.70,220.74 53.00,227.48 53.30,214.83 53.60,218.53 53.90,211.92 54.20,211.12 54.50,216.03 54.80,227.19 55.10,224.90 55.40,221.37 55.70,220.36 56.00,217.86 56.30,227.78 56.60,222.70 56.90,214.94 57.20,225.94 57.50,233.25 57.80,215.82 58.10,233.88 58.40,216.88 58.70,221.16 59.00,234.31 59.30,234.49 59.60,219.55 59.90,230.08 60.20,228.23 60.50,224.31 60.80,231.96 61.10,229.31 61.40,221.63 61.70,226.96 62.00,231.40 62.30,229.92 62.60,228.62 62.90,232.59 63.20,221.18 63.50,219.63 63.80,219.65 64.10,231.20 64.40,227.83 64.70,235.79 65.00,238.63 65.30,222.25 65.60,227.62 65.90,228.62 66.20,231.28 66.50,238.51 66.80,232.75 67.10,227.26 67.40,234.36 67.70,228.02 68.00,232.22 68.30,223.09 68.60,231.78 68.90,229.83 69.20,232.75 69.50,230.92 69.80,230.73 70.10,233.61 70.40,221.62 70.70,233.28 71.00,230.50 71.30,231.45 71.60,225.55 71.90,219.16 72.20,235.06 72.50,232.91 72.80,235.49 73.10,225.20 73.40,233.12 73.70,232.56 74.00,226.02 74.30,232.51 74.60,230.54 74.90,216.43 75.20,216.73 75.50,221.73 75.80,223.86 76.10,225.87 76.40,223.85 76.70,229.60 77.00,227.83 77.30,213.97 77.60,218.26 77.90,228.62 78.20,225.77 78.50,211.14 78.80,222.75 79.10,212.78 79.40,219.84 79.70,229.12 80.00,211.01 80.30,225.29 80.60,218.43 80.90,227.80 81.20,225.23 81.50,209.52 81.80,220.51 82.10,224.47 82.40,212.91 82.70,220.93 83.00,211.91 83.30,210.70 83.60,212.91 83.90,211.89 84.20,224.67 84.50,210.25 84.80,213.68 85.10,214.62 85.40,218.36 85.70,223.53 86.00,216.34 86.30,220.89 86.60,206.42 86.90,216.50 87.20,206.71 87.50,220.07 87.80,214.44 88.10,205.23 88.40,218.98 88.70,212.64 89.00,211.98 89.30,204.26 89.60,220.55 89.90,213.05 90.20,220.06 90.50,204.83 90.80,216.80 91.10,211.03 91.40,214.35 91.70,216.23 92.00,220.34 92.30,222.42 92.60,207.81 92.90,221.52 93.20,207.17 93.50,205.27 93.80,211.12 94.10,210.97 94.40,220.65 94.70,216.70 95.00,213.50 95.30,221.55 95.60,224.56 95.90,218.97 96.20,219.37 96.50,223.62 96.80,212.66 97.10,226.60 97.40,210.72 97.70,208.33 98.00,223.73 98.30,211.20 98.60,214.52 98.90,218.19 99.20,210.56 99.50,216.95 99.80,215.86 100.10,210.88 100.40,221.30 100.70,218.61 101.00,213.18 101.30,225.76 101.60,218.65 101.90,211.41 102.20,228.39 102.50,219.47 102.80,213.55 103.10,217.69 103.40,217.31 103.70,213.47 104.00,219.35 104.30,216.47 104.60,217.63 104.90,226.89 105.20,217.12 105.50,214.73 105.80,218.07 106.10,220.63 106.40,218.38 106.70,227.07 107.00,232.78 107.30,232.00 107.60,225.11 107.90,231.35 108.20,231.55 108.50,228.64 108.80,232.01 109.10,223.89 109.40,231.17 109.70,226.91 110.00,231.21 110.30,231.33 110.60,218.39 110.90,233.37 111.20,218.00 111.50,225.66 111.80,228.89 112.10,233.46 112.40,218.70 112.70,230.65 113.00,224.40 113.30,218.59 113.60,224.30 113.90,230.32 114.20,219.62 114.50,234.47 114.80,218.99 115.10,222.84 115.40,224.66 115.70,219.61 116.00,236.28 116.30,237.13 116.60,236.01 116.90,222.48 117.20,234.76 117.50,225.29 117.80,224.41 118.10,232.20 118.40,220.64 118.70,219.17 119.00,237.02 119.30,226.00 119.60,234.54 119.90,227.51 120.20,221.18 120.50,228.58 120.80,222.82 121.10,221.16 121.40,220.04 121.70,227.42 122.00,224.76 122.30,226.31 122.60,238.35 122.90,235.87 123.20,233.57 123.50,224.80 123.80,234.53 124.10,233.41 124.40,229.99 124.70,224.22 125.00,223.38 125.30,227.17 125.60,224.18 125.90,235.54 126.20,227.28 126.50,231.07 126.80,234.99 127.10,229.46 127.40,220.42 127.70,223.18 128.00,234.39 128.30,217.43 128.60,220.49 128.90,227.74 129.20,231.94 129.50,230.99 129.80,228.97 130.10,228.10 130.40,221.52 130.70,215.24 131.00,225.76 131.30,214.68 131.60,228.00 131.90,214.87 132.20,212.33 132.50,230.19 132.80,213.77 133.10,220.79 133.40,210.01 133.70,226.32 134.00,206.80 134.30,218.14 134.60,219.70 134.90,208.16 135.20,201.94 135.50,202.72 135.80,203.90 136.10,218.33 136.40,215.40 136.70,223.65 137.00,219.80 137.30,220.11 137.60,213.51 137.90,214.65 138.20,229.47 138.50,229.50 138.80,220.29 139.10,227.41 139.40,226.38 139.70,218.40 140.00,217.26 140.30,227.88 140.60,232.17 140.90,232.84 141.20,221.33 141.50,216.11 141.80,221.11 142.10,216.67 142.40,234.11 142.70,221.58 143.00,231.93 143.30,220.88 143.60,234.46 143.90,225.86 144.20,232.52 144.50,228.34 144.80,231.66 145.10,218.90 145.40,219.38 145.70,224.63 146.00,234.55 146.30,235.34 146.60,231.67 146.90,229.62 147.20,219.37 147.50,235.77 147.80,230.78 148.10,229.96 148.40,234.18 148.70,222.90 149.00,230.05 149.30,231.23 149.60,232.59 149.90,220.29 150.20,232.08 150.50,235.32 150.80,230.22 151.10,221.70 151.40,235.61 151.70,220.45 152.00,222.83 152.30,234.42 152.60,229.48 152.90,224.79 153.20,233.46 153.50,230.56 153.80,220.75 154.10,222.86 154.40,233.57 154.70,233.57 155.00,219.93 155.30,228.19 155.60,231.73 155.90,224.55 156.20,219.69 156.50,226.22 156.80,235.76 157.10,231.96 157.40,222.40 157.70,234.02 158.00,230.72 158.30,223.73 158.60,223.28 158.90,221.54 159.20,225.67 159.50,224.76 159.80,223.29 160.10,233.96 160.40,231.70 160.70,226.53 161.00,234.81 161.30,229.09 161.60,233.47 161.90,230.22 162.20,225.47 162.50,225.21 162.80,225.31 163.10,225.28 163.40,228.15 163.70,219.98 164.00,221.81 164.30,220.96 164.60,234.11 164.90,234.47 165.20,226.53 165.50,226.20 165.80,221.65 166.10,237.33 166.40,232.05 166.70,237.61 167.00,231.77 167.30,229.82 167.60,234.29 167.90,236.99 168.20,236.40 168.50,227.47 168.80,230.57 169.10,238.71 169.40,230.88 169.70,236.42 170.00,231.53 170.30,237.28 170.60,223.53 170.90,222.46 171.20,224.24 171.50,230.66 171.80,229.57 172.10,240.45 172.40,241.29 172.70,225.78 173.00,238.62 173.30,232.87 173.60,239.03 173.90,230.62 174.20,238.07 174.50,224.31 174.80,232.84 175.10,230.54 175.40,229.22 175.70,230.24 176.00,232.53 176.30,234.06 176.60,234.73 176.90,238.65 177.20,240.46 177.50,243.03 177.80,237.89 178.10,230.58 178.40,236.51 178.70,234.10 179.00,230.55 179.30,232.42 179.60,230.68 179.90,236.37 180.20,227.98 180.50,236.68 180.80,234.43 181.10,227.26 181.40,232.21 181.70,244.83 182.00,237.91 182.30,228.77 182.60,238.10 182.90,240.49 183.20,230.38 183.50,235.31 183.80,232.03 184.10,238.05 184.40,243.18 184.70,232.84 185.00,231.16 185.30,231.27 185.60,239.91 185.90,230.25 186.20,238.56 186.50,243.76 186.80,243.09 187.10,241.48 187.40,229.79 187.70,237.44 188.00,234.18 188.30,239.16 188.60,232.78 188.90,232.59 189.20,247.31 189.50,246.15 189.80,232.27 190.10,245.43 190.40,231.94 190.70,236.93 191.00,248.74 191.30,247.90 191.60,239.57 191.90,243.87 192.20,238.29 192.50,246.67 192.80,237.21 193.10,235.28 193.40,234.20 193.70,242.90 194.00,241.62 194.30,247.79 194.60,234.35 194.90,246.09 195.20,248.60 195.50,245.11 195.80,233.89 196.10,234.60 196.40,233.46 196.70,237.87 197.00,245.45 197.30,234.56 197.60,239.99 197.90,232.82 198.20,244.11 198.50,233.84 198.80,246.20 199.10,243.02 199.40,235.55 199.70,244.59 200.00,238.42 200.30,241.54 200.60,242.15 200.90,237.12 201.20,239.73 201.50,246.30 201.80,247.71 202.10,247.45 202.40,242.51 202.70,247.92 203.00,234.98 203.30,249.94 203.60,233.34 203.90,248.49 204.20,246.61 204.50,239.53 204.80,246.63 205.10,249.61 205.40,235.60 205.70,244.21 206.00,232.83 206.30,244.52 206.60,233.89 206.90,244.62 207.20,233.33 207.50,240.00 207.80,248.20 208.10,238.34 208.40,250.05 208.70,241.30 209.00,236.22 209.30,249.54 209.60,235.80 209.90,243.52 210.20,249.61 210.50,249.52 210.80,242.68 211.10,236.58 211.40,241.60 211.70,237.87 212.00,238.21 212.30,238.21 212.60,236.12 212.90,233.19 213.20,245.65 213.50,232.62 213.80,242.41 214.10,238.73 214.40,243.64 214.70,242.36 215.00,240.52 215.30,245.69 215.60,242.02 215.90,247.69 216.20,242.13 216.50,247.17 216.80,246.88 217.10,244.05 217.40,237.37 217.70,240.05 218.00,232.84 218.30,244.08 218.60,242.62 218.90,245.55 219.20,232.62 219.50,233.30 219.80,242.27 220.10,243.68 220.40,232.06 220.70,231.20 221.00,236.22 221.30,236.35 221.60,231.19 221.90,231.84 222.20,233.53 222.50,230.02 222.80,232.16 223.10,229.77 223.40,235.51 223.70,241.79 224.00,239.88 224.30,238.45 224.60,235.48 224.90,229.92 225.20,226.67 225.50,228.01 225.80,240.12 226.10,236.29 226.40,230.52 226.70,229.73 227.00,231.01 227.30,231.60 227.60,222.28 227.90,233.08 228.20,231.99 228.50,227.10 228.80,228.82 229.10,227.99 229.40,235.61 229.70,243.79 230.00,241.38 230.30,231.19 230.60,230.84 230.90,234.08 231.20,232.41 231.50,232.34 231.80,242.85 232.10,235.85 232.40,240.43 232.70,236.29 233.00,248.08 233.30,241.45 233.60,233.77 233.90,244.97 234.20,236.67 234.50,239.67 234.80,236.90 235.10,240.53 235.40,237.50 235.70,237.85 236.00,235.15 236.30,249.14 236.60,236.24 236.90,237.65 237.20,239.96 237.50,235.01 237.80,237.04 238.10,240.22 238.40,243.37 238.70,242.65 239.00,239.85 239.30,245.26 239.60,246.55 239.90,238.36 240.20,238.02 240.50,244.76 240.80,241.17 241.10,248.48 241.40,234.44 241.70,243.69 242.00,240.46 242.30,238.21 242.60,249.58 242.90,238.47 243.20,248.40 243.50,249.61 243.80,251.65 244.10,237.11 244.40,237.89 244.70,236.74 245.00,240.90 245.30,251.07 245.60,246.66 245.90,238.37 246.20,237.62 246.50,248.77 246.80,246.71 247.10,236.16 247.40,246.29 247.70,239.58 248.00,241.46 248.30,238.25 248.60,253.61 248.90,244.55 249.20,247.39 249.50,240.43 249.80,243.45 250.10,248.20 250.40,250.01 250.70,252.85 251.00,241.67 251.30,241.64 251.60,244.53 251.90,243.01 252.20,251.84 252.50,244.28 252.80,244.42 253.10,246.72 253.40,247.87 253.70,244.37 254.00,238.59 254.30,251.09 254.60,240.60 254.90,253.31 255.20,243.05 255.50,243.30 255.80,248.17 256.10,254.61 256.40,245.73 256.70,247.53 257.00,246.47 257.30,241.36 257.60,244.36" fill="none" stroke="#e87800" stroke-width="0.6" stroke-opacity="0.4"/>
<polyline points="29.20,361.62 29.45,356.40 29.70,351.23 29.95,346.21 30.20,340.37 30.45,334.17 30.70,328.61 30.95,322.92 31.20,316.86 31.45,311.43 31.70,307.44 31.95,303.59 32.20,300.50 32.45,297.51 32.70,296.61 32.95,299.33 33.20,302.69 33.45,307.02 33.70,317.94 33.95,329.55 34.20,340.58 34.45,349.16 34.70,355.81 34.95,362.69 35.20,359.08 35.45,353.39 35.70,347.54 35.95,339.13 36.20,329.66 36.45,319.32 36.70,317.47 36.95,327.31 37.20,336.68 37.45,346.01 37.70,355.92 37.95,365.63 38.20,369.10 38.45,370.53 38.70,371.30 38.95,373.14 39.20,374.45 39.45,375.77 39.70,375.72 39.95,376.24 40.20,375.82 40.45,376.67 40.70,376.43 40.95,376.20 41.20,376.92 41.45,376.96 41.70,376.61 41.95,377.41 42.20,377.08 42.45,377.40 42.70,377.62 42.95,376.74 43.20,377.55 43.45,377.28 43.70,377.27 43.95,376.99 44.20,377.32 44.45,376.93 44.70,376.93 44.95,377.01 45.20,376.74 45.45,377.35 45.70,376.50 45.95,376.45 46.20,376.26 46.45,375.86 46.70,375.24 46.95,373.78 47.20,371.08 47.45,368.88 47.70,370.07 47.95,372.92 48.20,374.72 48.45,375.45 48.70,375.65 48.95,377.06 49.20,376.98 49.45,376.96 49.70,377.07 49.95,376.93 50.20,376.86 50.45,377.05 50.70,377.10 50.95,377.01 51.20,376.80 51.45,377.08 51.70,377.28 51.95,376.99 52.20,377.08 52.45,376.51 52.70,376.91 52.95,376.85 53.20,376.46 53.45,376.18 53.70,376.52 53.95,375.94 54.20,375.87 54.45,375.07 54.70,374.45 54.95,372.77 55.20,370.01 55.45,365.96 55.70,358.63 55.95,352.33 56.20,355.35 56.45,363.33 56.70,369.17 56.95,372.36 57.20,374.03 57.45,375.18 57.70,375.72 57.95,376.26 58.20,376.61 58.45,376.73 58.70,376.82 58.95,376.97 59.20,377.64 59.45,377.12 59.70,377.13 59.95,377.15 60.20,377.27 60.45,377.36 60.70,377.04 60.95,376.84 61.20,377.41 61.45,376.92 61.70,377.37 61.95,377.30 62.20,377.48 62.45,377.50 62.70,376.99 62.95,376.43 63.20,375.69 63.45,374.78 63.70,373.87 63.95,373.51 64.20,375.23 64.45,376.12 64.70,376.80 64.95,376.83 65.20,377.10 65.45,376.98 65.70,377.09 65.95,376.77 66.20,377.23 66.45,377.53 66.70,377.10 66.95,377.00 67.20,376.42 67.45,376.61 67.70,375.34 67.95,374.61 68.20,373.62 68.45,373.85 68.70,375.08 68.95,375.03 69.20,374.69 69.45,373.82 69.70,372.44 69.95,371.91 70.20,373.16 70.45,374.29 70.70,375.34 70.95,375.71 71.20,375.81 71.45,376.16 71.70,376.24 71.95,376.32 72.20,376.49 72.45,375.55 72.70,375.66 72.95,374.58 73.20,374.14 73.45,373.21 73.70,371.23 73.95,369.24 74.20,367.42 74.45,365.99 74.70,366.53 74.95,368.41 75.20,371.30 75.45,372.36 75.70,373.25 75.95,374.49 76.20,374.45 76.45,374.10 76.70,374.05 76.95,373.15 77.20,372.81 77.45,372.94 77.70,373.48 77.95,374.96 78.20,375.56 78.45,375.85 78.70,376.32 78.95,377.05 79.20,376.94 79.45,377.21 79.70,377.49 79.95,377.46 80.20,377.13 80.45,377.74 80.70,377.87 80.95,377.90 81.20,378.13 81.45,377.85 81.70,377.98 81.95,378.21 82.20,377.77 82.45,378.29 82.70,378.31 82.95,378.09 83.20,378.37 83.45,378.13 83.70,377.71 83.95,378.22 84.20,378.03 84.45,378.05 84.70,377.99 84.95,378.29 85.20,378.08 85.45,377.76 85.70,378.04 85.95,378.08 86.20,377.68 86.45,377.70 86.70,377.63 86.95,377.44 87.20,377.45 87.45,377.22 87.70,376.73 87.95,375.44 88.20,374.65 88.45,375.44 88.70,376.61 88.95,376.91 89.20,377.58 89.45,377.73 89.70,377.76 89.95,377.78 90.20,377.83 90.45,377.94 90.70,377.73 90.95,378.20 91.20,378.08 91.45,378.13 91.70,378.20 91.95,378.31 92.20,377.99 92.45,378.12 92.70,377.75 92.95,377.60 93.20,377.67 93.45,378.54 93.70,377.69 93.95,378.26 94.20,378.50 94.45,378.00 94.70,378.50 94.95,378.53 95.20,378.26 95.45,378.55 95.70,378.02 95.95,377.53 96.20,377.61 96.45,376.96 96.70,376.02 96.95,374.78 97.20,374.30 97.45,373.80 97.70,375.40 97.95,376.38 98.20,377.24 98.45,377.51 98.70,377.69 98.95,377.63 99.20,377.68 99.45,377.91 99.70,378.22 99.95,378.70 100.20,378.47 100.45,378.68 100.70,378.36 100.95,378.23 101.20,377.93 101.45,378.27 101.70,377.73 101.95,378.19 102.20,378.67 102.45,378.33 102.70,378.52 102.95,378.11 103.20,377.83 103.45,378.00 103.70,377.95 103.95,378.24 104.20,378.26 104.45,377.29 104.70,376.89 104.95,376.06 105.20,374.54 105.45,372.99 105.70,374.00 105.95,375.68 106.20,376.81 106.45,377.05 106.70,377.69 106.95,377.50 107.20,378.31 107.45,377.92 107.70,378.18 107.95,378.19 108.20,378.19 108.45,378.10 108.70,377.95 108.95,378.85 109.20,378.49 109.45,378.51 109.70,378.98 109.95,378.44 110.20,378.61 110.45,378.49 110.70,378.79 110.95,378.62 111.20,378.58 111.45,378.44 111.70,378.58 111.95,378.80 112.20,377.99 112.45,378.48 112.70,378.40 112.95,378.43 113.20,378.01 113.45,378.67 113.70,378.27 113.95,378.40 114.20,378.31 114.45,377.98 114.70,378.23 114.95,377.80 115.20,377.90 115.45,377.84 115.70,377.53 115.95,376.87 116.20,375.83 116.45,376.00 116.70,376.38 116.95,376.86 117.20,377.56 117.45,377.85 117.70,378.14 117.95,378.14 118.20,378.14 118.45,378.80 118.70,378.42 118.95,378.32 119.20,378.33 119.45,378.32 119.70,378.67 119.95,378.38 120.20,378.43 120.45,377.20 120.70,377.80 120.95,377.55 121.20,377.07 121.45,375.55 121.70,374.15 121.95,374.87 122.20,375.64 122.45,376.34 122.70,377.28 122.95,378.11 123.20,378.40 123.45,378.45 123.70,378.12 123.95,379.10 124.20,378.24 124.45,378.56 124.70,378.25 124.95,378.98 125.20,378.78 125.45,378.92 125.70,378.73 125.95,378.71 126.20,378.78 126.45,378.28 126.70,379.01 126.95,379.00 127.20,378.69 127.45,378.79 127.70,378.88 127.95,379.20 128.20,378.93 128.45,378.84 128.70,378.70 128.95,378.46 129.20,378.69 129.45,378.87 129.70,378.79 129.95,378.88 130.20,379.05 130.45,378.98 130.70,378.95 130.95,379.05 131.20,378.94 131.45,378.89 131.70,379.02 131.95,378.47 132.20,379.22 132.45,378.59 132.70,379.13 132.95,378.93 133.20,379.20 133.45,378.94 133.70,378.70 133.95,379.21 134.20,378.99 134.45,378.98 134.70,378.98 134.95,379.21 135.20,379.17 135.45,379.03 135.70,378.58 135.95,378.88 136.20,379.01 136.45,379.43 136.70,379.09 136.95,378.97 137.20,379.30 137.45,378.97 137.70,379.00 137.95,379.05 138.20,378.64 138.45,379.26 138.70,379.13 138.95,378.96 139.20,378.75 139.45,379.09 139.70,379.39 139.95,378.88 140.20,378.78 140.45,379.16 140.70,378.66 140.95,378.51 141.20,378.95 141.45,378.90 141.70,379.00 141.95,378.94 142.20,379.16 142.45,379.03 142.70,378.94 142.95,378.98 143.20,379.26 143.45,379.34 143.70,379.33 143.95,379.28 144.20,378.29 144.45,378.87 144.70,379.04 144.95,379.18 145.20,378.73 145.45,379.49 145.70,379.21 145.95,378.99 146.20,379.19 146.45,379.06 146.70,378.96 146.95,379.29 147.20,379.05 147.45,378.81 147.70,379.01 147.95,379.15 148.20,378.91 148.45,379.50 148.70,378.91 148.95,379.63 149.20,379.42 149.45,378.96 149.70,379.24 149.95,379.50 150.20,379.16 150.45,378.91 150.70,379.24 150.95,379.71 151.20,378.84 151.45,379.35 151.70,379.22 151.95,379.19 152.20,379.12 152.45,379.14 152.70,379.48 152.95,379.37 153.20,378.97 153.45,379.61 153.70,378.90 153.95,379.39 154.20,379.27 154.45,379.53 154.70,379.32 154.95,379.49 155.20,379.22 155.45,379.47 155.70,379.32 155.95,379.77 156.20,379.06 156.45,379.53 156.70,379.35 156.95,379.28 157.20,379.10 157.45,379.35 157.70,378.87 157.95,378.90 158.20,379.42 158.45,378.85 158.70,379.60 158.95,379.18 159.20,379.31 159.45,379.27 159.70,379.35 159.95,379.18 160.20,379.16 160.45,379.22 160.70,379.52 160.95,379.54 161.20,379.57 161.45,379.35 161.70,379.21 161.95,378.84 162.20,379.42 162.45,379.47 162.70,379.16 162.95,379.46 163.20,379.58 163.45,379.29 163.70,379.53 163.95,379.34 164.20,378.83 164.45,379.15 164.70,379.17 164.95,379.40 165.20,379.05 165.45,379.16 165.70,379.03 165.95,379.26 166.20,379.29 166.45,379.52 166.70,379.48 166.95,379.32 167.20,379.34 167.45,379.31 167.70,379.31 167.95,379.67 168.20,378.66 168.45,379.24 168.70,379.36 168.95,379.57 169.20,379.01 169.45,379.37 169.70,379.50 169.95,379.18 170.20,378.81 170.45,379.20 170.70,378.99 170.95,379.45 171.20,379.08 171.45,379.74 171.70,379.33 171.95,379.09 172.20,379.17 172.45,379.02 172.70,379.40 172.95,379.67 173.20,379.25 173.45,379.53 173.70,379.07 173.95,379.38 174.20,379.88 174.45,378.95 174.70,379.61 174.95,379.60 175.20,378.84 175.45,378.95 175.70,379.07 175.95,379.55 176.20,379.20 176.45,379.27 176.70,379.49 176.95,379.34 177.20,379.37 177.45,379.24 177.70,379.60 177.95,379.12 178.20,379.74 178.45,379.24 178.70,379.12 178.95,379.48 179.20,379.44 179.45,378.83 179.70,379.38 179.95,378.99 180.20,379.12 180.45,379.52 180.70,379.11 180.95,379.42 181.20,379.23 181.45,379.81 181.70,379.31 181.95,379.04 182.20,379.06 182.45,379.11 182.70,379.37 182.95,379.33 183.20,379.58 183.45,379.38 183.70,379.37 183.95,379.42 184.20,379.31 184.45,379.41 184.70,379.54 184.95,379.54 185.20,379.21 185.45,378.90 185.70,379.14 185.95,379.42 186.20,378.72 186.45,379.23 186.70,379.46 186.95,379.21 187.20,379.07 187.45,379.79 187.70,379.70 187.95,379.29 188.20,379.68 188.45,379.68 188.70,379.07 188.95,380.02 189.20,379.12 189.45,379.29 189.70,379.08 189.95,379.38 190.20,379.03 190.45,379.36 190.70,379.63 190.95,379.41 191.20,379.30 191.45,379.75 191.70,379.14 191.95,379.61 192.20,379.29 192.45,379.42 192.70,379.37 192.95,379.40 193.20,379.36 193.45,379.17 193.70,379.23 193.95,379.48 194.20,379.34 194.45,379.08 194.70,379.20 194.95,379.20 195.20,379.36 195.45,379.42 195.70,379.40 195.95,379.21 196.20,379.38 196.45,379.04 196.70,378.66 196.95,379.37 197.20,378.97 197.45,379.14 197.70,379.08 197.95,379.54 198.20,379.08 198.45,379.45 198.70,379.26 198.95,379.08 199.20,378.99 199.45,379.50 199.70,379.48 199.95,379.58 200.20,379.85 200.45,379.46 200.70,379.46 200.95,379.36 201.20,379.42 201.45,379.30 201.70,379.17 201.95,379.89 202.20,378.93 202.45,379.46 202.70,379.50 202.95,379.43 203.20,379.15 203.45,379.35 203.70,379.28 203.95,379.13 204.20,379.39 204.45,379.30 204.70,379.26 204.95,379.57 205.20,379.14 205.45,379.51 205.70,379.25 205.95,379.51 206.20,379.42 206.45,379.46 206.70,379.16 206.95,379.21 207.20,379.19 207.45,379.45 207.70,379.59 207.95,379.68 208.20,379.28 208.45,379.43 208.70,379.01 208.95,378.86 209.20,379.19 209.45,379.25 209.70,379.02 209.95,378.97 210.20,379.55 210.45,379.21 210.70,379.00 210.95,379.99 211.20,379.46 211.45,379.34 211.70,379.59 211.95,379.23 212.20,379.81 212.45,379.03 212.70,379.09 212.95,379.38 213.20,379.23 213.45,379.77 213.70,379.02 213.95,379.24 214.20,379.48 214.45,379.56 214.70,379.67 214.95,379.51 215.20,379.97 215.45,379.31 215.70,379.47 215.95,379.64 216.20,379.35 216.45,379.35 216.70,379.31 216.95,379.27 217.20,379.14 217.45,379.29 217.70,379.04 217.95,379.52 218.20,379.03 218.45,379.94 218.70,379.85 218.95,379.70 219.20,379.37 219.45,379.28 219.70,379.73 219.95,379.47 220.20,379.56 220.45,379.24 220.70,379.69 220.95,379.22 221.20,379.45 221.45,378.99 221.70,379.25 221.95,379.54 222.20,379.30 222.45,379.29 222.70,379.60 222.95,379.38 223.20,379.70 223.45,378.78 223.70,379.51 223.95,379.49 224.20,378.96 224.45,379.01 224.70,379.52 224.95,379.01 225.20,379.07 225.45,379.32 225.70,379.00 225.95,379.07 226.20,378.54 226.45,378.51 226.70,378.19 226.95,377.25 227.20,375.92 227.45,376.73 227.70,377.35 227.95,377.83 228.20,378.87 228.45,378.38 228.70,379.46 228.95,378.96 229.20,379.59 229.45,379.24 229.70,378.97 229.95,379.35 230.20,379.44 230.45,379.51 230.70,379.65 230.95,379.18 231.20,379.53 231.45,379.60 231.70,379.36 231.95,379.20 232.20,379.20 232.45,379.63 232.70,379.65 232.95,379.25 233.20,379.13 233.45,379.77 233.70,379.08 233.95,379.51 234.20,379.27 234.45,379.04 234.70,379.51 234.95,379.43 235.20,379.84 235.45,380.05 235.70,379.44 235.95,379.74 236.20,379.75 236.45,379.36 236.70,379.27 236.95,379.89 237.20,379.40 237.45,379.49 237.70,379.42 237.95,379.46 238.20,379.35 238.45,379.69 238.70,379.81 238.95,379.41 239.20,379.16 239.45,379.52 239.70,379.14 239.95,379.35 240.20,379.82 240.45,380.09 240.70,379.61 240.95,379.25 241.20,379.71 241.45,378.96 241.70,379.34 241.95,379.90 242.20,379.70 242.45,379.18 242.70,379.11 242.95,379.73 243.20,379.51 243.45,379.38 243.70,379.63 243.95,379.38 244.20,379.05 244.45,379.73 244.70,379.37 244.95,379.28 245.20,379.20 245.45,379.59 245.70,379.33 245.95,379.69 246.20,379.47 246.45,379.80 246.70,379.44 246.95,379.38 247.20,379.05 247.45,379.27 247.70,379.72 247.95,380.30 248.20,379.23 248.45,379.29 248.70,379.63 248.95,379.66 249.20,379.38 249.45,379.57 249.70,379.15 249.95,379.48 250.20,379.77 250.45,379.96 250.70,379.51 250.95,379.49 251.20,379.67 251.45,379.83 251.70,379.68 251.95,379.37 252.20,379.65 252.45,379.80 252.70,379.38 252.95,379.23 253.20,379.69 253.45,379.65 253.70,379.80 253.95,379.59 254.20,379.41 254.45,379.46 254.70,379.31 254.95,379.33 255.20,379.43 255.45,379.45 255.70,379.85 255.95,379.27 256.20,379.56 256.45,379.43 256.70,379.95 256.95,379.64 257.20,379.49 257.45,379.78 257.70,379.60 257.95,379.46 258.20,379.96" fill="none" stroke="#640c64" stroke-width="2.3" stroke-linejoin="round" />
<line x1="29.4" y1="144.5" x2="257" y2="144.5" stroke="#222" stroke-width="1.6" stroke-dasharray="4.9 7"/>
<line x1="29.4" y1="271.8" x2="257" y2="271.8" stroke="#222" stroke-width="1.6" stroke-dasharray="4.9 7"/>
<defs><linearGradient id="ag" x1="0" y1="0" x2="0" y2="1"><stop offset="0" stop-color="#0c5c1c"/><stop offset="0.45" stop-color="#5aa05e"/><stop offset="1" stop-color="#f4faf4"/></linearGradient></defs>
<path d="M67.4,126.5 L71.30000000000001,132.1 L69.5,132.1 L69.5,173.3 L65.30000000000001,173.3 L65.30000000000001,132.1 L63.50000000000001,132.1Z" fill="url(#ag)" stroke="#1e3a20" stroke-width="0.7"/>
<line x1="65.30000000000001" y1="173.3" x2="69.5" y2="173.3" stroke="#333" stroke-width="1.2"/>
<path d="M68.3,252.5 L72.2,258.1 L70.39999999999999,258.1 L70.39999999999999,301.5 L66.2,301.5 L66.2,258.1 L64.39999999999999,258.1Z" fill="url(#ag)" stroke="#1e3a20" stroke-width="0.7"/>
<line x1="66.2" y1="301.5" x2="70.39999999999999" y2="301.5" stroke="#333" stroke-width="1.2"/>
<text x="73" y="158.7" font-size="12" fill="#1f2a8c" stroke="#1f2a8c" stroke-width="0.35" text-anchor="start" >Sulfidizing</text>
<text x="73.2" y="285.6" font-size="12.2" fill="#1f2a8c" stroke="#1f2a8c" stroke-width="0.35">Ni(NO<tspan font-size="7.5" dy="2.5">3</tspan><tspan dy="-2.5">)</tspan><tspan font-size="7.5" dy="2.5">2</tspan><tspan dy="-2.5"> etching</tspan></text>
<text x="172.5" y="22.9" font-size="12" fill="#0f7d7a" stroke="#0f7d7a" stroke-width="0.35">NiCoS/Ti<tspan font-size="7.0" dy="4.8">3</tspan><tspan dy="-4.8">C</tspan><tspan font-size="7.0" dy="4.8">2</tspan><tspan dy="-4.8">T</tspan><tspan font-size="7.3" dy="4.8" font-style="italic">x</tspan></text>
<path transform="translate(186.2,40.4) scale(0.95)" d="M0,-3.4 L3.0,0.2 C3.8,1.2 3.0,2.6 1.6,2.2 C1.2,2.1 0.9,1.9 0.7,1.6 L1.1,3 L-1.1,3 L-0.7,1.6 C-0.9,1.9 -1.2,2.1 -1.6,2.2 C-3.0,2.6 -3.8,1.2 -3.0,0.2Z" fill="#1a1a1a"/>
<text x="190.9" y="43.2" font-size="11.8" fill="#1a1a1a" stroke="#1a1a1a" stroke-width="0.35" text-anchor="start" >:NiCoS</text>
<text x="154" y="166.8" font-size="11.9" fill="#f88a0c" stroke="#f88a0c" stroke-width="0.35">NiCo-LDH/Ti<tspan font-size="6.9" dy="4.8">3</tspan><tspan dy="-4.8">C</tspan><tspan font-size="6.9" dy="4.8">2</tspan><tspan dy="-4.8">T</tspan><tspan font-size="7.2" dy="4.8" font-style="italic">x</tspan></text>
<path transform="translate(171.5,181.8) scale(0.95)" d="M0,-3.4 L2.9,0 L0,3.4 L-2.9,0Z" fill="#1a1a1a"/>
<text x="174.5" y="186" font-size="12" fill="#1a1a1a" stroke="#1a1a1a" stroke-width="0.35" text-anchor="start" >:NiCo-LDH</text>
<text x="175.6" y="296.2" font-size="11.9" fill="#6e0e6e" stroke="#6e0e6e" stroke-width="0.35">ZIF-67/Ti<tspan font-size="6.9" dy="4.8">3</tspan><tspan dy="-4.8">C</tspan><tspan font-size="6.9" dy="4.8">2</tspan><tspan dy="-4.8">T</tspan><tspan font-size="7.2" dy="4.8" font-style="italic">x</tspan></text>
<path transform="translate(192.5,317.3) scale(0.95)" d="M0,3.2 C-1.5,1.6 -3.6,0.4 -3.4,-1.2 C-3.2,-2.8 -0.9,-3.2 0,-1.4 C0.9,-3.2 3.2,-2.8 3.4,-1.2 C3.6,0.4 1.5,1.6 0,3.2Z" fill="#1a1a1a"/>
<text x="196" y="321.3" font-size="12" fill="#1a1a1a" stroke="#1a1a1a" stroke-width="0.35" text-anchor="start" >:ZIF-67</text>
<g transform="translate(192.5,335.5) scale(0.95)" fill="#1a1a1a"><circle cx="0" cy="-1.6" r="1.5"/><circle cx="-1.8" cy="0.8" r="1.5"/><circle cx="1.8" cy="0.8" r="1.5"/><path d="M-0.5,0 L0.5,0 L1.3,3 L-1.3,3Z"/></g>
<text x="196" y="339.4" font-size="12.2" fill="#1a1a1a" stroke="#1a1a1a" stroke-width="0.35">:Ti<tspan font-size="7.1" dy="4.9">3</tspan><tspan dy="-4.9">C</tspan><tspan font-size="7.1" dy="4.9">2</tspan><tspan dy="-4.9">T</tspan><tspan font-size="7.4" dy="4.9" font-style="italic">x</tspan></text>
<g transform="translate(34.3,77) scale(1.1)" fill="#1a1a1a"><circle cx="0" cy="-1.6" r="1.5"/><circle cx="-1.8" cy="0.8" r="1.5"/><circle cx="1.8" cy="0.8" r="1.5"/><path d="M-0.5,0 L0.5,0 L1.3,3 L-1.3,3Z"/></g>
<path transform="translate(107.6,74.2) scale(1.12)" d="M0,-3.4 L3.0,0.2 C3.8,1.2 3.0,2.6 1.6,2.2 C1.2,2.1 0.9,1.9 0.7,1.6 L1.1,3 L-1.1,3 L-0.7,1.6 C-0.9,1.9 -1.2,2.1 -1.6,2.2 C-3.0,2.6 -3.8,1.2 -3.0,0.2Z" fill="#1a1a1a"/>
<path transform="translate(123,30.6) scale(1.12)" d="M0,-3.4 L3.0,0.2 C3.8,1.2 3.0,2.6 1.6,2.2 C1.2,2.1 0.9,1.9 0.7,1.6 L1.1,3 L-1.1,3 L-0.7,1.6 C-0.9,1.9 -1.2,2.1 -1.6,2.2 C-3.0,2.6 -3.8,1.2 -3.0,0.2Z" fill="#1a1a1a"/>
<path transform="translate(146,78.0) scale(1.12)" d="M0,-3.4 L3.0,0.2 C3.8,1.2 3.0,2.6 1.6,2.2 C1.2,2.1 0.9,1.9 0.7,1.6 L1.1,3 L-1.1,3 L-0.7,1.6 C-0.9,1.9 -1.2,2.1 -1.6,2.2 C-3.0,2.6 -3.8,1.2 -3.0,0.2Z" fill="#1a1a1a"/>
<g transform="translate(164,99.2) scale(1.1)" fill="#1a1a1a"><circle cx="0" cy="-1.6" r="1.5"/><circle cx="-1.8" cy="0.8" r="1.5"/><circle cx="1.8" cy="0.8" r="1.5"/><path d="M-0.5,0 L0.5,0 L1.3,3 L-1.3,3Z"/></g>
<path transform="translate(189.6,84.2) scale(1.12)" d="M0,-3.4 L3.0,0.2 C3.8,1.2 3.0,2.6 1.6,2.2 C1.2,2.1 0.9,1.9 0.7,1.6 L1.1,3 L-1.1,3 L-0.7,1.6 C-0.9,1.9 -1.2,2.1 -1.6,2.2 C-3.0,2.6 -3.8,1.2 -3.0,0.2Z" fill="#1a1a1a"/>
<path transform="translate(206.3,54.7) scale(1.12)" d="M0,-3.4 L3.0,0.2 C3.8,1.2 3.0,2.6 1.6,2.2 C1.2,2.1 0.9,1.9 0.7,1.6 L1.1,3 L-1.1,3 L-0.7,1.6 C-0.9,1.9 -1.2,2.1 -1.6,2.2 C-3.0,2.6 -3.8,1.2 -3.0,0.2Z" fill="#1a1a1a"/>
<g transform="translate(233.5,101.9) scale(1.1)" fill="#1a1a1a"><circle cx="0" cy="-1.6" r="1.5"/><circle cx="-1.8" cy="0.8" r="1.5"/><circle cx="1.8" cy="0.8" r="1.5"/><path d="M-0.5,0 L0.5,0 L1.3,3 L-1.3,3Z"/></g>
<g transform="translate(36.3,189.2) scale(1.1)" fill="#1a1a1a"><circle cx="0" cy="-1.6" r="1.5"/><circle cx="-1.8" cy="0.8" r="1.5"/><circle cx="1.8" cy="0.8" r="1.5"/><path d="M-0.5,0 L0.5,0 L1.3,3 L-1.3,3Z"/></g>
<path transform="translate(48.2,189.2) scale(1.1)" d="M0,-3.4 L2.9,0 L0,3.4 L-2.9,0Z" fill="#1a1a1a"/>
<path transform="translate(89,188) scale(1.1)" d="M0,-3.4 L2.9,0 L0,3.4 L-2.9,0Z" fill="#1a1a1a"/>
<path transform="translate(134.7,197.6) scale(1.1)" d="M0,-3.4 L2.9,0 L0,3.4 L-2.9,0Z" fill="#1a1a1a"/>
<g transform="translate(163,203.7) scale(1.1)" fill="#1a1a1a"><circle cx="0" cy="-1.6" r="1.5"/><circle cx="-1.8" cy="0.8" r="1.5"/><circle cx="1.8" cy="0.8" r="1.5"/><path d="M-0.5,0 L0.5,0 L1.3,3 L-1.3,3Z"/></g>
<g transform="translate(228.5,208.7) scale(1.1)" fill="#1a1a1a"><circle cx="0" cy="-1.6" r="1.5"/><circle cx="-1.8" cy="0.8" r="1.5"/><circle cx="1.8" cy="0.8" r="1.5"/><path d="M-0.5,0 L0.5,0 L1.3,3 L-1.3,3Z"/></g>
<g transform="translate(34.5,289) scale(1.1)" fill="#1a1a1a"><circle cx="0" cy="-1.6" r="1.5"/><circle cx="-1.8" cy="0.8" r="1.5"/><circle cx="1.8" cy="0.8" r="1.5"/><path d="M-0.5,0 L0.5,0 L1.3,3 L-1.3,3Z"/></g>
<path transform="translate(39.4,314.2) scale(1.1)" d="M0,3.2 C-1.5,1.6 -3.6,0.4 -3.4,-1.2 C-3.2,-2.8 -0.9,-3.2 0,-1.4 C0.9,-3.2 3.2,-2.8 3.4,-1.2 C3.6,0.4 1.5,1.6 0,3.2Z" fill="#1a1a1a"/>
<path transform="translate(56.4,347) scale(1.1)" d="M0,3.2 C-1.5,1.6 -3.6,0.4 -3.4,-1.2 C-3.2,-2.8 -0.9,-3.2 0,-1.4 C0.9,-3.2 3.2,-2.8 3.4,-1.2 C3.6,0.4 1.5,1.6 0,3.2Z" fill="#1a1a1a"/>
<g transform="translate(228.6,370) scale(1.1)" fill="#1a1a1a"><circle cx="0" cy="-1.6" r="1.5"/><circle cx="-1.8" cy="0.8" r="1.5"/><circle cx="1.8" cy="0.8" r="1.5"/><path d="M-0.5,0 L0.5,0 L1.3,3 L-1.3,3Z"/></g>
<rect x="28.7" y="6.5" width="229.90000000000003" height="379.7" fill="none" stroke="#222" stroke-width="1.3"/>
<line x1="28.70" y1="386.2" x2="28.70" y2="388.59999999999997" stroke="#222" stroke-width="1.1"/>
<line x1="46.38" y1="386.2" x2="46.38" y2="389.4" stroke="#222" stroke-width="1.1"/>
<line x1="64.07" y1="386.2" x2="64.07" y2="388.59999999999997" stroke="#222" stroke-width="1.1"/>
<line x1="81.75" y1="386.2" x2="81.75" y2="389.4" stroke="#222" stroke-width="1.1"/>
<line x1="99.44" y1="386.2" x2="99.44" y2="388.59999999999997" stroke="#222" stroke-width="1.1"/>
<line x1="117.12" y1="386.2" x2="117.12" y2="389.4" stroke="#222" stroke-width="1.1"/>
<line x1="134.81" y1="386.2" x2="134.81" y2="388.59999999999997" stroke="#222" stroke-width="1.1"/>
<line x1="152.49" y1="386.2" x2="152.49" y2="389.4" stroke="#222" stroke-width="1.1"/>
<line x1="170.18" y1="386.2" x2="170.18" y2="388.59999999999997" stroke="#222" stroke-width="1.1"/>
<line x1="187.86" y1="386.2" x2="187.86" y2="389.4" stroke="#222" stroke-width="1.1"/>
<line x1="205.55" y1="386.2" x2="205.55" y2="388.59999999999997" stroke="#222" stroke-width="1.1"/>
<line x1="223.23" y1="386.2" x2="223.23" y2="389.4" stroke="#222" stroke-width="1.1"/>
<line x1="240.92" y1="386.2" x2="240.92" y2="388.59999999999997" stroke="#222" stroke-width="1.1"/>
<line x1="258.60" y1="386.2" x2="258.60" y2="389.4" stroke="#222" stroke-width="1.1"/>
<text x="46.38" y="400.5" font-size="10.4" fill="#1a1a1a" stroke="#1a1a1a" stroke-width="0.35" text-anchor="middle" >10</text>
<text x="81.75" y="400.5" font-size="10.4" fill="#1a1a1a" stroke="#1a1a1a" stroke-width="0.35" text-anchor="middle" >20</text>
<text x="117.12" y="400.5" font-size="10.4" fill="#1a1a1a" stroke="#1a1a1a" stroke-width="0.35" text-anchor="middle" >30</text>
<text x="152.49" y="400.5" font-size="10.4" fill="#1a1a1a" stroke="#1a1a1a" stroke-width="0.35" text-anchor="middle" >40</text>
<text x="187.86" y="400.5" font-size="10.4" fill="#1a1a1a" stroke="#1a1a1a" stroke-width="0.35" text-anchor="middle" >50</text>
<text x="223.23" y="400.5" font-size="10.4" fill="#1a1a1a" stroke="#1a1a1a" stroke-width="0.35" text-anchor="middle" >60</text>
<text x="258.60" y="400.5" font-size="10.4" fill="#1a1a1a" stroke="#1a1a1a" stroke-width="0.35" text-anchor="middle" >70</text>
<text x="155.5" y="418.8" font-size="15.8" fill="#1a1a1a" stroke="#1a1a1a" stroke-width="0.35" text-anchor="middle">2<tspan font-style="italic">θ</tspan> (°)</text>
<text x="18.6" y="204" font-size="13.9" fill="#1a1a1a" stroke="#1a1a1a" stroke-width="0.35" text-anchor="middle" transform="rotate(-90 18.6 204)">Intensity (a.u.)</text>
<text x="2.9" y="19.8" font-size="17.2" fill="#1a1a1a" stroke="#1a1a1a" stroke-width="0.35" text-anchor="start" textLength="23.4" lengthAdjust="spacingAndGlyphs">(F)</text>
<line x1="415.5" y1="7.4" x2="415.5" y2="37" stroke="#e49a50" stroke-width="1.8" stroke-dasharray="4.6 6"/>
<line x1="472.6" y1="9.0" x2="472.6" y2="40" stroke="#e49a50" stroke-width="1.8" stroke-dasharray="4.6 6"/>
<line x1="441.2" y1="20.4" x2="441.2" y2="51" stroke="#7e3a86" stroke-width="1.8" stroke-dasharray="5 6"/>
<line x1="403.8" y1="45" x2="403.8" y2="76" stroke="#e49a50" stroke-width="1.8" stroke-dasharray="4.6 6"/>
<line x1="470" y1="56" x2="470" y2="86" stroke="#e49a50" stroke-width="1.8" stroke-dasharray="4.6 6"/>
<line x1="440.0" y1="111.4" x2="440.0" y2="142" stroke="#7e3a86" stroke-width="1.8" stroke-dasharray="5 6"/>
<path d="M308.00,64.70 C313.33,64.75 332.85,65.10 340.00,65.00 C347.15,64.90 348.17,65.02 350.90,64.10 C353.63,63.18 354.58,61.77 356.40,59.50 C358.22,57.23 359.98,53.07 361.80,50.50 C363.62,47.93 365.48,45.77 367.30,44.10 C369.12,42.43 370.28,41.57 372.70,40.50 C375.12,39.43 378.77,38.77 381.80,37.70 C384.83,36.63 388.17,35.30 390.90,34.10 C393.63,32.90 395.77,32.32 398.20,30.50 C400.63,28.68 403.23,25.78 405.50,23.20 C407.77,20.62 410.30,16.67 411.80,15.00 C413.30,13.33 413.43,13.20 414.50,13.20 C415.57,13.20 416.68,13.03 418.20,15.00 C419.72,16.97 421.78,21.97 423.60,25.00 C425.42,28.03 427.28,31.38 429.10,33.20 C430.92,35.02 432.45,35.63 434.50,35.90 C436.55,36.17 439.35,34.95 441.40,34.80 C443.45,34.65 444.83,35.12 446.80,35.00 C448.77,34.88 451.23,34.85 453.20,34.10 C455.17,33.35 456.63,32.32 458.60,30.50 C460.57,28.68 462.87,25.48 465.00,23.20 C467.13,20.92 469.43,17.42 471.40,16.80 C473.37,16.18 474.98,17.53 476.80,19.50 C478.62,21.47 480.48,25.57 482.30,28.60 C484.12,31.63 485.58,35.27 487.70,37.70 C489.82,40.13 491.67,41.53 495.00,43.20 C498.33,44.87 503.77,46.33 507.70,47.70 C511.63,49.07 515.57,50.48 518.60,51.40 C521.63,52.32 523.50,52.82 525.90,53.20 C528.30,53.58 531.82,53.62 533.00,53.70" fill="none" stroke="#0b6262" stroke-width="2.4" stroke-linejoin="round" stroke-linecap="round"/>
<path d="M308.00,116.00 C314.17,116.00 337.52,116.00 345.00,116.00 C352.48,116.00 350.93,116.83 352.90,116.00 C354.87,115.17 355.48,113.80 356.80,111.00 C358.12,108.20 359.15,103.15 360.80,99.20 C362.45,95.25 364.40,90.60 366.70,87.30 C369.00,84.00 371.65,81.70 374.60,79.40 C377.55,77.10 381.45,75.47 384.40,73.50 C387.35,71.53 389.98,69.73 392.30,67.60 C394.62,65.47 396.38,62.18 398.30,60.70 C400.22,59.22 401.83,58.37 403.80,58.70 C405.77,59.03 407.73,60.55 410.10,62.70 C412.47,64.85 415.37,69.30 418.00,71.60 C420.63,73.90 422.95,75.45 425.90,76.50 C428.85,77.55 432.10,78.00 435.70,77.90 C439.30,77.80 443.45,76.77 447.50,75.90 C451.55,75.03 456.35,73.82 460.00,72.70 C463.65,71.58 466.60,69.20 469.40,69.20 C472.20,69.20 474.18,71.32 476.80,72.70 C479.42,74.08 481.98,76.35 485.10,77.50 C488.22,78.65 492.02,78.30 495.50,79.60 C498.98,80.90 502.17,83.13 506.00,85.30 C509.83,87.47 514.08,90.48 518.50,92.60 C522.92,94.72 530.17,97.10 532.50,98.00" fill="none" stroke="#e8821e" stroke-width="2.3" stroke-linejoin="round" stroke-linecap="round"/>
<polyline points="308.00,167.80 308.50,168.26 309.00,168.02 309.50,167.86 310.00,167.59 310.50,167.06 311.00,167.87 311.50,167.60 312.00,167.88 312.50,167.59 313.00,167.30 313.50,167.17 314.00,167.94 314.50,168.22 315.00,167.53 315.50,167.87 316.00,168.30 316.50,167.32 317.00,167.55 317.50,167.22 318.00,168.26 318.50,167.86 319.00,167.55 319.50,167.03 320.00,167.70 320.50,168.18 321.00,167.56 321.50,167.46 322.00,167.90 322.50,167.02 323.00,167.55 323.50,167.75 324.00,167.09 324.50,167.03 325.00,167.46 325.50,167.27 326.00,167.16 326.50,167.32 327.00,167.28 327.50,165.33 328.00,164.00 328.50,163.06 329.00,161.92 329.50,160.59 330.00,155.85 330.50,152.97 331.00,149.07 331.50,144.97 332.00,142.95 332.50,140.85 333.00,139.03 333.50,135.51 334.00,135.55 334.50,134.52 335.00,133.79 335.50,133.70 336.00,132.85 336.50,132.03 337.00,132.36 337.50,132.59 338.00,131.85 338.50,132.87 339.00,132.45 339.50,132.56 340.00,132.64 340.50,133.29 341.00,132.50 341.50,132.33 342.00,133.26 342.50,132.26 343.00,132.25 343.50,131.87 344.00,132.97 344.50,132.61 345.00,132.70 345.50,132.59 346.00,132.49 346.50,132.24 347.00,132.27 347.50,132.85 348.00,132.74 348.50,133.45 349.00,132.42 349.50,132.57 350.00,132.37 350.50,133.47 351.00,132.34 351.50,133.26 352.00,133.59 352.50,132.92 353.00,133.34 353.50,132.11 354.00,132.92 354.50,132.38 355.00,133.23 355.50,133.19 356.00,132.88 356.50,133.67 357.00,133.45 357.50,133.09 358.00,133.13 358.50,132.73 359.00,133.34 359.50,134.40 360.00,133.17 360.50,133.66 361.00,133.22 361.50,133.81 362.00,133.63 362.50,133.32 363.00,132.62 363.50,133.17 364.00,133.92 364.50,133.27 365.00,133.64 365.50,133.14 366.00,132.51 366.50,133.52 367.00,133.46 367.50,133.04 368.00,133.12 368.50,133.41 369.00,133.00 369.50,133.41 370.00,133.15 370.50,132.18 371.00,133.15 371.50,132.94 372.00,132.82 372.50,133.36 373.00,132.95 373.50,133.39 374.00,133.63 374.50,133.19 375.00,132.43 375.50,132.78 376.00,133.50 376.50,132.96 377.00,132.71 377.50,133.01 378.00,133.26 378.50,133.14 379.00,133.30 379.50,132.64 380.00,132.87 380.50,132.85 381.00,132.93 381.50,131.98 382.00,132.79 382.50,132.27 383.00,133.46 383.50,133.51 384.00,133.54 384.50,133.13 385.00,132.53 385.50,133.14 386.00,132.60 386.50,132.94 387.00,132.24 387.50,132.36 388.00,132.80 388.50,133.36 389.00,132.53 389.50,133.52 390.00,133.72 390.50,131.90 391.00,132.43 391.50,131.99 392.00,132.33 392.50,132.13 393.00,132.31 393.50,132.75 394.00,132.71 394.50,132.38 395.00,132.24 395.50,132.27 396.00,132.25 396.50,132.42 397.00,132.15 397.50,132.34 398.00,131.51 398.50,132.42 399.00,132.82 399.50,132.10 400.00,131.36 400.50,132.54 401.00,131.75 401.50,130.51 402.00,131.70 402.50,132.01 403.00,131.86 403.50,132.20 404.00,131.87 404.50,131.60 405.00,130.61 405.50,130.95 406.00,131.47 406.50,131.65 407.00,130.84 407.50,130.97 408.00,131.40 408.50,130.29 409.00,130.23 409.50,130.94 410.00,131.11 410.50,130.73 411.00,129.87 411.50,130.85 412.00,130.20 412.50,131.04 413.00,130.65 413.50,130.76 414.00,130.88 414.50,130.31 415.00,130.86 415.50,131.00 416.00,130.57 416.50,130.94 417.00,130.02 417.50,130.65 418.00,130.31 418.50,129.71 419.00,130.06 419.50,129.81 420.00,129.75 420.50,129.93 421.00,130.27 421.50,129.55 422.00,129.65 422.50,128.84 423.00,129.44 423.50,129.81 424.00,129.56 424.50,129.31 425.00,128.76 425.50,128.46 426.00,128.75 426.50,128.10 427.00,128.05 427.50,128.91 428.00,127.99 428.50,129.10 429.00,127.56 429.50,128.29 430.00,127.47 430.50,127.97 431.00,127.33 431.50,127.71 432.00,127.53 432.50,127.29 433.00,127.62 433.50,127.97 434.00,126.93 434.50,127.49 435.00,127.03 435.50,127.08 436.00,128.16 436.50,126.32 437.00,127.08 437.50,126.67 438.00,127.43 438.50,127.57 439.00,129.46 439.50,128.01 440.00,128.76 440.50,128.61 441.00,127.91 441.50,128.39 442.00,128.99 442.50,128.39 443.00,128.47 443.50,128.67 444.00,127.84 444.50,128.22 445.00,128.80 445.50,128.96 446.00,128.38 446.50,128.71 447.00,128.87 447.50,128.93 448.00,129.49 448.50,129.42 449.00,129.64 449.50,129.13 450.00,129.48 450.50,130.28 451.00,129.62 451.50,130.64 452.00,130.41 452.50,130.54 453.00,131.38 453.50,130.98 454.00,131.09 454.50,131.36 455.00,131.88 455.50,133.27 456.00,131.28 456.50,132.37 457.00,132.42 457.50,133.11 458.00,132.67 458.50,131.89 459.00,133.74 459.50,132.81 460.00,133.43 460.50,133.00 461.00,133.27 461.50,133.69 462.00,134.45 462.50,134.60 463.00,134.11 463.50,134.75 464.00,134.52 464.50,134.89 465.00,135.06 465.50,135.42 466.00,135.02 466.50,135.35 467.00,135.55 467.50,135.54 468.00,135.19 468.50,136.37 469.00,135.44 469.50,136.03 470.00,135.83 470.50,136.33 471.00,134.86 471.50,136.80 472.00,135.84 472.50,135.43 473.00,136.08 473.50,137.08 474.00,136.35 474.50,135.62 475.00,136.01 475.50,136.86 476.00,135.68 476.50,136.28 477.00,136.26 477.50,137.36 478.00,136.26 478.50,136.97 479.00,136.08 479.50,136.03 480.00,136.84 480.50,136.66 481.00,135.61 481.50,136.67 482.00,136.67 482.50,136.11 483.00,136.48 483.50,136.51 484.00,136.17 484.50,136.12 485.00,136.09 485.50,136.26 486.00,135.79 486.50,136.37 487.00,135.72 487.50,136.42 488.00,136.35 488.50,135.92 489.00,136.77 489.50,137.28 490.00,137.10 490.50,135.98 491.00,137.24 491.50,136.85 492.00,136.82 492.50,136.66 493.00,137.00 493.50,137.71 494.00,137.42 494.50,137.07 495.00,137.04 495.50,137.24 496.00,137.77 496.50,138.43 497.00,137.21 497.50,137.76 498.00,137.67 498.50,137.59 499.00,138.19 499.50,138.34 500.00,137.55 500.50,137.80 501.00,138.88 501.50,138.58 502.00,138.72 502.50,138.26 503.00,138.31 503.50,138.69 504.00,138.26 504.50,137.99 505.00,138.48 505.50,138.89 506.00,138.02 506.50,138.96 507.00,138.80 507.50,138.10 508.00,138.49 508.50,138.47 509.00,138.77 509.50,138.78 510.00,137.90 510.50,137.88 511.00,138.94 511.50,138.54 512.00,138.67 512.50,138.63 513.00,139.17 513.50,137.95 514.00,138.97 514.50,138.12 515.00,138.81 515.50,139.08 516.00,137.87 516.50,138.66 517.00,138.36 517.50,138.36 518.00,138.50 518.50,138.02 519.00,138.02 519.50,138.71 520.00,138.76 520.50,138.09 521.00,137.66 521.50,139.31 522.00,138.73 522.50,138.37 523.00,137.72 523.50,137.88 524.00,138.21 524.50,137.64 525.00,138.75 525.50,138.06 526.00,138.14 526.50,137.48 527.00,137.50 527.50,137.51 528.00,137.95 528.50,137.68 529.00,137.63 529.50,137.87 530.00,137.79 530.50,138.32 531.00,137.54 531.50,137.14 532.00,137.55 532.50,138.17" fill="none" stroke="#6e0e6e" stroke-width="2.4" stroke-linejoin="round" />
<text x="310.4" y="26.2" font-size="11" fill="#1a1a1a" stroke="#1a1a1a" stroke-width="0.35" text-anchor="start" ></text>
<text x="310.4" y="26.2" font-size="11.8" fill="#0b6262" stroke="#0b6262" stroke-width="0.35">NiCoS/Ti<tspan font-size="6.8" dy="4.7">3</tspan><tspan dy="-4.7">C</tspan><tspan font-size="6.8" dy="4.7">2</tspan><tspan dy="-4.7">T</tspan><tspan font-size="7.2" dy="4.7" font-style="italic">x</tspan></text>
<text x="311.4" y="95.8" font-size="11.5" fill="#e8821e" stroke="#e8821e" stroke-width="0.35" text-anchor="start" >NiCoS</text>
<text x="340.6" y="152.8" font-size="12" fill="#6e0e6e" stroke="#6e0e6e" stroke-width="0.35">Ti<tspan font-size="7.0" dy="4.8">3</tspan><tspan dy="-4.8">C</tspan><tspan font-size="7.0" dy="4.8">2</tspan><tspan dy="-4.8">T</tspan><tspan font-size="7.3" dy="4.8" font-style="italic">x</tspan></text>
<rect x="307.8" y="6.3" width="225.59999999999997" height="164.5" fill="none" stroke="#222" stroke-width="1.3"/>
<line x1="307.80" y1="170.8" x2="307.80" y2="173.8" stroke="#222" stroke-width="1.1"/>
<line x1="323.91" y1="170.8" x2="323.91" y2="173.0" stroke="#222" stroke-width="1.1"/>
<line x1="340.03" y1="170.8" x2="340.03" y2="173.8" stroke="#222" stroke-width="1.1"/>
<line x1="356.14" y1="170.8" x2="356.14" y2="173.0" stroke="#222" stroke-width="1.1"/>
<line x1="372.26" y1="170.8" x2="372.26" y2="173.8" stroke="#222" stroke-width="1.1"/>
<line x1="388.37" y1="170.8" x2="388.37" y2="173.0" stroke="#222" stroke-width="1.1"/>
<line x1="404.49" y1="170.8" x2="404.49" y2="173.8" stroke="#222" stroke-width="1.1"/>
<line x1="420.60" y1="170.8" x2="420.60" y2="173.0" stroke="#222" stroke-width="1.1"/>
<line x1="436.71" y1="170.8" x2="436.71" y2="173.8" stroke="#222" stroke-width="1.1"/>
<line x1="452.83" y1="170.8" x2="452.83" y2="173.0" stroke="#222" stroke-width="1.1"/>
<line x1="468.94" y1="170.8" x2="468.94" y2="173.8" stroke="#222" stroke-width="1.1"/>
<line x1="485.06" y1="170.8" x2="485.06" y2="173.0" stroke="#222" stroke-width="1.1"/>
<line x1="501.17" y1="170.8" x2="501.17" y2="173.8" stroke="#222" stroke-width="1.1"/>
<line x1="517.29" y1="170.8" x2="517.29" y2="173.0" stroke="#222" stroke-width="1.1"/>
<line x1="533.40" y1="170.8" x2="533.40" y2="173.8" stroke="#222" stroke-width="1.1"/>
<text x="307.80" y="184.0" font-size="9.6" fill="#1a1a1a" stroke="#1a1a1a" stroke-width="0.35" text-anchor="middle" >100</text>
<text x="340.03" y="184.0" font-size="9.6" fill="#1a1a1a" stroke="#1a1a1a" stroke-width="0.35" text-anchor="middle" >200</text>
<text x="372.26" y="184.0" font-size="9.6" fill="#1a1a1a" stroke="#1a1a1a" stroke-width="0.35" text-anchor="middle" >300</text>
<text x="404.49" y="184.0" font-size="9.6" fill="#1a1a1a" stroke="#1a1a1a" stroke-width="0.35" text-anchor="middle" >400</text>
<text x="436.71" y="184.0" font-size="9.6" fill="#1a1a1a" stroke="#1a1a1a" stroke-width="0.35" text-anchor="middle" >500</text>
<text x="468.94" y="184.0" font-size="9.6" fill="#1a1a1a" stroke="#1a1a1a" stroke-width="0.35" text-anchor="middle" >600</text>
<text x="501.17" y="184.0" font-size="9.6" fill="#1a1a1a" stroke="#1a1a1a" stroke-width="0.35" text-anchor="middle" >700</text>
<text x="533.40" y="184.0" font-size="9.6" fill="#1a1a1a" stroke="#1a1a1a" stroke-width="0.35" text-anchor="middle" >800</text>
<text x="421" y="200.8" font-size="12.5" fill="#1a1a1a" stroke="#1a1a1a" stroke-width="0.35" text-anchor="middle">Raman shift (cm<tspan font-size="7.5" dy="-5">-1</tspan><tspan dy="5">)</tspan></text>
<text x="298.2" y="100" font-size="13.9" fill="#1a1a1a" stroke="#1a1a1a" stroke-width="0.35" text-anchor="middle" transform="rotate(-90 298.2 100)">Intensity (a.u.)</text>
<text x="274.2" y="21.0" font-size="17.2" fill="#1a1a1a" stroke="#1a1a1a" stroke-width="0.35" text-anchor="start" textLength="27.2" lengthAdjust="spacingAndGlyphs">(G)</text>
<line x1="314.5" y1="301.3" x2="452.7" y2="301.3" stroke="#222" stroke-width="1.0"/>
<line x1="314.50" y1="301.3" x2="314.50" y2="303.5" stroke="#222" stroke-width="0.6"/>
<line x1="333.34" y1="301.3" x2="333.34" y2="302.6" stroke="#222" stroke-width="0.6"/>
<line x1="344.37" y1="301.3" x2="344.37" y2="302.6" stroke="#222" stroke-width="0.6"/>
<line x1="352.19" y1="301.3" x2="352.19" y2="302.6" stroke="#222" stroke-width="0.6"/>
<line x1="358.26" y1="301.3" x2="358.26" y2="302.6" stroke="#222" stroke-width="0.6"/>
<line x1="363.21" y1="301.3" x2="363.21" y2="302.6" stroke="#222" stroke-width="0.6"/>
<line x1="367.40" y1="301.3" x2="367.40" y2="302.6" stroke="#222" stroke-width="0.6"/>
<line x1="371.03" y1="301.3" x2="371.03" y2="302.6" stroke="#222" stroke-width="0.6"/>
<line x1="374.24" y1="301.3" x2="374.24" y2="302.6" stroke="#222" stroke-width="0.6"/>
<line x1="377.10" y1="301.3" x2="377.10" y2="303.5" stroke="#222" stroke-width="0.6"/>
<line x1="395.94" y1="301.3" x2="395.94" y2="302.6" stroke="#222" stroke-width="0.6"/>
<line x1="406.97" y1="301.3" x2="406.97" y2="302.6" stroke="#222" stroke-width="0.6"/>
<line x1="414.79" y1="301.3" x2="414.79" y2="302.6" stroke="#222" stroke-width="0.6"/>
<line x1="420.86" y1="301.3" x2="420.86" y2="302.6" stroke="#222" stroke-width="0.6"/>
<line x1="425.81" y1="301.3" x2="425.81" y2="302.6" stroke="#222" stroke-width="0.6"/>
<line x1="430.00" y1="301.3" x2="430.00" y2="302.6" stroke="#222" stroke-width="0.6"/>
<line x1="433.63" y1="301.3" x2="433.63" y2="302.6" stroke="#222" stroke-width="0.6"/>
<line x1="436.84" y1="301.3" x2="436.84" y2="302.6" stroke="#222" stroke-width="0.6"/>
<line x1="439.70" y1="301.3" x2="439.70" y2="303.5" stroke="#222" stroke-width="0.6"/>
<text x="314.5" y="309.5" font-size="5.5" fill="#1a1a1a" stroke="#1a1a1a" stroke-width="0.35" text-anchor="middle" font-weight="normal">1</text>
<text x="377.1" y="309.5" font-size="5.5" fill="#1a1a1a" stroke="#1a1a1a" stroke-width="0.35" text-anchor="middle" font-weight="normal">10</text>
<text x="439.7" y="309.5" font-size="5.5" fill="#1a1a1a" stroke="#1a1a1a" stroke-width="0.35" text-anchor="middle" font-weight="normal">100</text>
<text x="383.4" y="319.4" font-size="6.6" fill="#333" stroke="#333" stroke-width="0.35" text-anchor="middle" >Pore diameter (nm)</text>
<polyline points="329.50,290.00 331.80,293.00 334.80,295.00 338.70,296.00 342.70,296.00 346.60,287.10 350.60,272.30 353.60,294.00 358.50,296.00 365.40,297.00 373.30,296.00 379.20,295.00 387.30,294.10 396.00,293.50 412.00,292.70 435.30,293.50" fill="none" stroke="#f0901e" stroke-width="1.1" stroke-linejoin="round"/>
<path d="M329.50,288.50 L331.00,291.05 L328.00,291.05Z" fill="#f0901e"/>
<path d="M331.80,291.50 L333.30,294.05 L330.30,294.05Z" fill="#f0901e"/>
<path d="M334.80,293.50 L336.30,296.05 L333.30,296.05Z" fill="#f0901e"/>
<path d="M338.70,294.50 L340.20,297.05 L337.20,297.05Z" fill="#f0901e"/>
<path d="M342.70,294.50 L344.20,297.05 L341.20,297.05Z" fill="#f0901e"/>
<path d="M346.60,285.60 L348.10,288.15 L345.10,288.15Z" fill="#f0901e"/>
<path d="M350.60,270.80 L352.10,273.35 L349.10,273.35Z" fill="#f0901e"/>
<path d="M353.60,292.50 L355.10,295.05 L352.10,295.05Z" fill="#f0901e"/>
<path d="M358.50,294.50 L360.00,297.05 L357.00,297.05Z" fill="#f0901e"/>
<path d="M365.40,295.50 L366.90,298.05 L363.90,298.05Z" fill="#f0901e"/>
<path d="M373.30,294.50 L374.80,297.05 L371.80,297.05Z" fill="#f0901e"/>
<path d="M379.20,293.50 L380.70,296.05 L377.70,296.05Z" fill="#f0901e"/>
<path d="M387.30,292.60 L388.80,295.15 L385.80,295.15Z" fill="#f0901e"/>
<path d="M396.00,292.00 L397.50,294.55 L394.50,294.55Z" fill="#f0901e"/>
<path d="M412.00,291.20 L413.50,293.75 L410.50,293.75Z" fill="#f0901e"/>
<path d="M435.30,292.00 L436.80,294.55 L433.80,294.55Z" fill="#f0901e"/>
<polyline points="330.90,287.10 333.80,289.10 336.80,290.70 340.70,293.00 344.70,295.00 347.60,291.00 350.60,279.20 353.90,294.00 357.50,295.00 361.40,294.00 365.40,293.00 370.30,291.40 375.30,290.00 379.20,288.10 387.30,287.10 393.10,286.30 398.90,285.40 413.50,282.80 438.50,289.20" fill="none" stroke="#6a0e6a" stroke-width="1.3" stroke-linejoin="round"/>
<circle cx="330.90" cy="287.10" r="1.7" fill="#6a0e6a"/>
<circle cx="333.80" cy="289.10" r="1.7" fill="#6a0e6a"/>
<circle cx="336.80" cy="290.70" r="1.7" fill="#6a0e6a"/>
<circle cx="340.70" cy="293.00" r="1.7" fill="#6a0e6a"/>
<circle cx="344.70" cy="295.00" r="1.7" fill="#6a0e6a"/>
<circle cx="347.60" cy="291.00" r="1.7" fill="#6a0e6a"/>
<circle cx="350.60" cy="279.20" r="1.7" fill="#6a0e6a"/>
<circle cx="353.90" cy="294.00" r="1.7" fill="#6a0e6a"/>
<circle cx="357.50" cy="295.00" r="1.7" fill="#6a0e6a"/>
<circle cx="361.40" cy="294.00" r="1.7" fill="#6a0e6a"/>
<circle cx="365.40" cy="293.00" r="1.7" fill="#6a0e6a"/>
<circle cx="370.30" cy="291.40" r="1.7" fill="#6a0e6a"/>
<circle cx="375.30" cy="290.00" r="1.7" fill="#6a0e6a"/>
<circle cx="379.20" cy="288.10" r="1.7" fill="#6a0e6a"/>
<circle cx="387.30" cy="287.10" r="1.7" fill="#6a0e6a"/>
<circle cx="393.10" cy="286.30" r="1.7" fill="#6a0e6a"/>
<circle cx="398.90" cy="285.40" r="1.7" fill="#6a0e6a"/>
<circle cx="413.50" cy="282.80" r="1.7" fill="#6a0e6a"/>
<circle cx="438.50" cy="289.20" r="1.7" fill="#6a0e6a"/>
<polyline points="331.40,250.60 333.40,248.60 335.40,249.20 337.80,252.00 340.30,255.10 342.70,259.50 345.70,261.40 349.20,249.20 351.60,229.90 354.50,277.20 358.50,278.20 362.40,278.80 367.00,279.20 370.90,280.20 375.30,280.20 381.50,280.20 387.30,279.60 393.10,278.40 403.30,276.70 422.20,276.10 438.20,279.60 450.70,290.00" fill="none" stroke="#0e7a7a" stroke-width="1.3" stroke-linejoin="round"/>
<circle cx="331.40" cy="250.60" r="1.9" fill="#2ab4b4" stroke="#0e7a7a" stroke-width="0.8"/>
<circle cx="333.40" cy="248.60" r="1.9" fill="#2ab4b4" stroke="#0e7a7a" stroke-width="0.8"/>
<circle cx="335.40" cy="249.20" r="1.9" fill="#2ab4b4" stroke="#0e7a7a" stroke-width="0.8"/>
<circle cx="337.80" cy="252.00" r="1.9" fill="#2ab4b4" stroke="#0e7a7a" stroke-width="0.8"/>
<circle cx="340.30" cy="255.10" r="1.9" fill="#2ab4b4" stroke="#0e7a7a" stroke-width="0.8"/>
<circle cx="342.70" cy="259.50" r="1.9" fill="#2ab4b4" stroke="#0e7a7a" stroke-width="0.8"/>
<circle cx="345.70" cy="261.40" r="1.9" fill="#2ab4b4" stroke="#0e7a7a" stroke-width="0.8"/>
<circle cx="349.20" cy="249.20" r="1.9" fill="#2ab4b4" stroke="#0e7a7a" stroke-width="0.8"/>
<circle cx="351.60" cy="229.90" r="1.9" fill="#2ab4b4" stroke="#0e7a7a" stroke-width="0.8"/>
<circle cx="354.50" cy="277.20" r="1.9" fill="#2ab4b4" stroke="#0e7a7a" stroke-width="0.8"/>
<circle cx="358.50" cy="278.20" r="1.9" fill="#2ab4b4" stroke="#0e7a7a" stroke-width="0.8"/>
<circle cx="362.40" cy="278.80" r="1.9" fill="#2ab4b4" stroke="#0e7a7a" stroke-width="0.8"/>
<circle cx="367.00" cy="279.20" r="1.9" fill="#2ab4b4" stroke="#0e7a7a" stroke-width="0.8"/>
<circle cx="370.90" cy="280.20" r="1.9" fill="#2ab4b4" stroke="#0e7a7a" stroke-width="0.8"/>
<circle cx="375.30" cy="280.20" r="1.9" fill="#2ab4b4" stroke="#0e7a7a" stroke-width="0.8"/>
<circle cx="381.50" cy="280.20" r="1.9" fill="#2ab4b4" stroke="#0e7a7a" stroke-width="0.8"/>
<circle cx="387.30" cy="279.60" r="1.9" fill="#2ab4b4" stroke="#0e7a7a" stroke-width="0.8"/>
<circle cx="393.10" cy="278.40" r="1.9" fill="#2ab4b4" stroke="#0e7a7a" stroke-width="0.8"/>
<circle cx="403.30" cy="276.70" r="1.9" fill="#2ab4b4" stroke="#0e7a7a" stroke-width="0.8"/>
<circle cx="422.20" cy="276.10" r="1.9" fill="#2ab4b4" stroke="#0e7a7a" stroke-width="0.8"/>
<circle cx="438.20" cy="279.60" r="1.9" fill="#2ab4b4" stroke="#0e7a7a" stroke-width="0.8"/>
<circle cx="450.70" cy="290.00" r="1.9" fill="#2ab4b4" stroke="#0e7a7a" stroke-width="0.8"/>
<polyline points="325.90,354.90 330.00,352.60 334.50,350.30 338.60,348.50 343.20,347.20 347.30,345.50 351.40,344.30 356.40,342.60 368.30,339.40 379.10,336.30 390.50,333.70 401.40,330.50 412.80,328.60 423.60,324.40 434.50,321.30 446.40,318.30 457.30,315.30 468.20,312.30 480.00,308.80 490.90,304.80 498.00,301.30 506.20,295.30 514.50,288.30 520.50,282.30 524.70,278.30 527.80,271.80 530.20,262.80 531.80,252.80 533.20,241.80 534.40,231.80 534.90,227.60" fill="none" stroke="#0b6a6a" stroke-width="1.5" stroke-linejoin="round"/>
<circle cx="325.90" cy="354.90" r="2.1" fill="#26b0b0" stroke="#0b6a6a" stroke-width="0.8"/>
<circle cx="330.00" cy="352.60" r="2.1" fill="#26b0b0" stroke="#0b6a6a" stroke-width="0.8"/>
<circle cx="334.50" cy="350.30" r="2.1" fill="#26b0b0" stroke="#0b6a6a" stroke-width="0.8"/>
<circle cx="338.60" cy="348.50" r="2.1" fill="#26b0b0" stroke="#0b6a6a" stroke-width="0.8"/>
<circle cx="343.20" cy="347.20" r="2.1" fill="#26b0b0" stroke="#0b6a6a" stroke-width="0.8"/>
<circle cx="347.30" cy="345.50" r="2.1" fill="#26b0b0" stroke="#0b6a6a" stroke-width="0.8"/>
<circle cx="351.40" cy="344.30" r="2.1" fill="#26b0b0" stroke="#0b6a6a" stroke-width="0.8"/>
<circle cx="356.40" cy="342.60" r="2.1" fill="#26b0b0" stroke="#0b6a6a" stroke-width="0.8"/>
<circle cx="368.30" cy="339.40" r="2.1" fill="#26b0b0" stroke="#0b6a6a" stroke-width="0.8"/>
<circle cx="379.10" cy="336.30" r="2.1" fill="#26b0b0" stroke="#0b6a6a" stroke-width="0.8"/>
<circle cx="390.50" cy="333.70" r="2.1" fill="#26b0b0" stroke="#0b6a6a" stroke-width="0.8"/>
<circle cx="401.40" cy="330.50" r="2.1" fill="#26b0b0" stroke="#0b6a6a" stroke-width="0.8"/>
<circle cx="412.80" cy="328.60" r="2.1" fill="#26b0b0" stroke="#0b6a6a" stroke-width="0.8"/>
<circle cx="423.60" cy="324.40" r="2.1" fill="#26b0b0" stroke="#0b6a6a" stroke-width="0.8"/>
<circle cx="434.50" cy="321.30" r="2.1" fill="#26b0b0" stroke="#0b6a6a" stroke-width="0.8"/>
<circle cx="446.40" cy="318.30" r="2.1" fill="#26b0b0" stroke="#0b6a6a" stroke-width="0.8"/>
<circle cx="457.30" cy="315.30" r="2.1" fill="#26b0b0" stroke="#0b6a6a" stroke-width="0.8"/>
<circle cx="468.20" cy="312.30" r="2.1" fill="#26b0b0" stroke="#0b6a6a" stroke-width="0.8"/>
<circle cx="480.00" cy="308.80" r="2.1" fill="#26b0b0" stroke="#0b6a6a" stroke-width="0.8"/>
<circle cx="490.90" cy="304.80" r="2.1" fill="#26b0b0" stroke="#0b6a6a" stroke-width="0.8"/>
<circle cx="498.00" cy="301.30" r="2.1" fill="#26b0b0" stroke="#0b6a6a" stroke-width="0.8"/>
<circle cx="506.20" cy="295.30" r="2.1" fill="#26b0b0" stroke="#0b6a6a" stroke-width="0.8"/>
<circle cx="514.50" cy="288.30" r="2.1" fill="#26b0b0" stroke="#0b6a6a" stroke-width="0.8"/>
<circle cx="520.50" cy="282.30" r="2.1" fill="#26b0b0" stroke="#0b6a6a" stroke-width="0.8"/>
<circle cx="524.70" cy="278.30" r="2.1" fill="#26b0b0" stroke="#0b6a6a" stroke-width="0.8"/>
<circle cx="527.80" cy="271.80" r="2.1" fill="#26b0b0" stroke="#0b6a6a" stroke-width="0.8"/>
<circle cx="530.20" cy="262.80" r="2.1" fill="#26b0b0" stroke="#0b6a6a" stroke-width="0.8"/>
<circle cx="531.80" cy="252.80" r="2.1" fill="#26b0b0" stroke="#0b6a6a" stroke-width="0.8"/>
<circle cx="533.20" cy="241.80" r="2.1" fill="#26b0b0" stroke="#0b6a6a" stroke-width="0.8"/>
<circle cx="534.40" cy="231.80" r="2.1" fill="#26b0b0" stroke="#0b6a6a" stroke-width="0.8"/>
<circle cx="534.90" cy="227.60" r="2.1" fill="#26b0b0" stroke="#0b6a6a" stroke-width="0.8"/>
<polyline points="534.90,227.60 534.00,236.80 532.60,248.80 530.50,258.80 527.80,265.80 524.70,270.30 520.00,275.80 514.50,281.80 506.20,289.80 496.40,297.30 490.90,300.30 480.00,304.80 468.20,308.80 457.30,311.80 446.40,314.30 434.50,317.30 423.60,320.30 412.80,326.10 401.40,330.50" fill="none" stroke="#0b6a6a" stroke-width="1.5" stroke-linejoin="round"/>
<circle cx="534.90" cy="227.60" r="2.1" fill="#26b0b0" stroke="#0b6a6a" stroke-width="0.8"/>
<circle cx="534.00" cy="236.80" r="2.1" fill="#26b0b0" stroke="#0b6a6a" stroke-width="0.8"/>
<circle cx="532.60" cy="248.80" r="2.1" fill="#26b0b0" stroke="#0b6a6a" stroke-width="0.8"/>
<circle cx="530.50" cy="258.80" r="2.1" fill="#26b0b0" stroke="#0b6a6a" stroke-width="0.8"/>
<circle cx="527.80" cy="265.80" r="2.1" fill="#26b0b0" stroke="#0b6a6a" stroke-width="0.8"/>
<circle cx="524.70" cy="270.30" r="2.1" fill="#26b0b0" stroke="#0b6a6a" stroke-width="0.8"/>
<circle cx="520.00" cy="275.80" r="2.1" fill="#26b0b0" stroke="#0b6a6a" stroke-width="0.8"/>
<circle cx="514.50" cy="281.80" r="2.1" fill="#26b0b0" stroke="#0b6a6a" stroke-width="0.8"/>
<circle cx="506.20" cy="289.80" r="2.1" fill="#26b0b0" stroke="#0b6a6a" stroke-width="0.8"/>
<circle cx="496.40" cy="297.30" r="2.1" fill="#26b0b0" stroke="#0b6a6a" stroke-width="0.8"/>
<circle cx="490.90" cy="300.30" r="2.1" fill="#26b0b0" stroke="#0b6a6a" stroke-width="0.8"/>
<circle cx="480.00" cy="304.80" r="2.1" fill="#26b0b0" stroke="#0b6a6a" stroke-width="0.8"/>
<circle cx="468.20" cy="308.80" r="2.1" fill="#26b0b0" stroke="#0b6a6a" stroke-width="0.8"/>
<circle cx="457.30" cy="311.80" r="2.1" fill="#26b0b0" stroke="#0b6a6a" stroke-width="0.8"/>
<circle cx="446.40" cy="314.30" r="2.1" fill="#26b0b0" stroke="#0b6a6a" stroke-width="0.8"/>
<circle cx="434.50" cy="317.30" r="2.1" fill="#26b0b0" stroke="#0b6a6a" stroke-width="0.8"/>
<circle cx="423.60" cy="320.30" r="2.1" fill="#26b0b0" stroke="#0b6a6a" stroke-width="0.8"/>
<circle cx="412.80" cy="326.10" r="2.1" fill="#26b0b0" stroke="#0b6a6a" stroke-width="0.8"/>
<circle cx="401.40" cy="330.50" r="2.1" fill="#26b0b0" stroke="#0b6a6a" stroke-width="0.8"/>
<polyline points="327.50,374.80 332.00,374.40 336.00,374.10 340.00,373.80 344.00,373.50 348.00,373.20 352.00,372.90 357.00,372.60 364.00,372.20 375.00,371.50 386.00,370.50 401.80,369.80 413.30,369.00 424.70,368.20 435.50,367.90 448.40,367.40 458.00,366.80 469.60,365.70 481.50,364.00 492.10,361.80 502.70,359.50 512.20,356.00 519.00,352.00 524.00,347.30 528.00,342.00 531.10,335.50 533.50,325.00 535.20,314.50" fill="none" stroke="#6e0e6e" stroke-width="1.5" stroke-linejoin="round"/>
<circle cx="327.50" cy="374.80" r="1.9" fill="#6e0e6e"/>
<circle cx="332.00" cy="374.40" r="1.9" fill="#6e0e6e"/>
<circle cx="336.00" cy="374.10" r="1.9" fill="#6e0e6e"/>
<circle cx="340.00" cy="373.80" r="1.9" fill="#6e0e6e"/>
<circle cx="344.00" cy="373.50" r="1.9" fill="#6e0e6e"/>
<circle cx="348.00" cy="373.20" r="1.9" fill="#6e0e6e"/>
<circle cx="352.00" cy="372.90" r="1.9" fill="#6e0e6e"/>
<circle cx="357.00" cy="372.60" r="1.9" fill="#6e0e6e"/>
<circle cx="364.00" cy="372.20" r="1.9" fill="#6e0e6e"/>
<circle cx="375.00" cy="371.50" r="1.9" fill="#6e0e6e"/>
<circle cx="386.00" cy="370.50" r="1.9" fill="#6e0e6e"/>
<circle cx="401.80" cy="369.80" r="1.9" fill="#6e0e6e"/>
<circle cx="413.30" cy="369.00" r="1.9" fill="#6e0e6e"/>
<circle cx="424.70" cy="368.20" r="1.9" fill="#6e0e6e"/>
<circle cx="435.50" cy="367.90" r="1.9" fill="#6e0e6e"/>
<circle cx="448.40" cy="367.40" r="1.9" fill="#6e0e6e"/>
<circle cx="458.00" cy="366.80" r="1.9" fill="#6e0e6e"/>
<circle cx="469.60" cy="365.70" r="1.9" fill="#6e0e6e"/>
<circle cx="481.50" cy="364.00" r="1.9" fill="#6e0e6e"/>
<circle cx="492.10" cy="361.80" r="1.9" fill="#6e0e6e"/>
<circle cx="502.70" cy="359.50" r="1.9" fill="#6e0e6e"/>
<circle cx="512.20" cy="356.00" r="1.9" fill="#6e0e6e"/>
<circle cx="519.00" cy="352.00" r="1.9" fill="#6e0e6e"/>
<circle cx="524.00" cy="347.30" r="1.9" fill="#6e0e6e"/>
<circle cx="528.00" cy="342.00" r="1.9" fill="#6e0e6e"/>
<circle cx="531.10" cy="335.50" r="1.9" fill="#6e0e6e"/>
<circle cx="533.50" cy="325.00" r="1.9" fill="#6e0e6e"/>
<circle cx="535.20" cy="314.50" r="1.9" fill="#6e0e6e"/>
<polyline points="535.20,314.50 534.00,322.00 531.60,330.00 528.50,337.00 524.50,343.00 518.00,350.00 512.20,354.00 502.70,358.00 490.00,361.00 470.00,364.50 440.00,366.80" fill="none" stroke="#6e0e6e" stroke-width="1.5" stroke-linejoin="round"/>
<circle cx="535.20" cy="314.50" r="1.9" fill="#6e0e6e"/>
<circle cx="534.00" cy="322.00" r="1.9" fill="#6e0e6e"/>
<circle cx="531.60" cy="330.00" r="1.9" fill="#6e0e6e"/>
<circle cx="528.50" cy="337.00" r="1.9" fill="#6e0e6e"/>
<circle cx="524.50" cy="343.00" r="1.9" fill="#6e0e6e"/>
<circle cx="518.00" cy="350.00" r="1.9" fill="#6e0e6e"/>
<circle cx="512.20" cy="354.00" r="1.9" fill="#6e0e6e"/>
<circle cx="502.70" cy="358.00" r="1.9" fill="#6e0e6e"/>
<circle cx="490.00" cy="361.00" r="1.9" fill="#6e0e6e"/>
<circle cx="470.00" cy="364.50" r="1.9" fill="#6e0e6e"/>
<circle cx="440.00" cy="366.80" r="1.9" fill="#6e0e6e"/>
<polyline points="327.50,380.30 333.00,380.10 339.00,379.90 345.00,379.70 352.00,379.50 360.00,379.20 370.00,378.60 380.00,378.00 392.00,377.20 405.00,376.60 420.00,375.70 435.00,375.30 448.00,375.00 467.30,374.50 485.00,373.60 502.70,372.10 512.00,370.80 519.30,368.60 524.00,366.50 528.70,363.80 532.00,360.50 535.40,355.60" fill="none" stroke="#f88a0c" stroke-width="1.5" stroke-linejoin="round"/>
<path d="M327.50,378.20 L329.60,381.88 L325.40,381.88Z" fill="#f88a0c"/>
<path d="M333.00,378.00 L335.10,381.68 L330.90,381.68Z" fill="#f88a0c"/>
<path d="M339.00,377.80 L341.10,381.47 L336.90,381.47Z" fill="#f88a0c"/>
<path d="M345.00,377.60 L347.10,381.27 L342.90,381.27Z" fill="#f88a0c"/>
<path d="M352.00,377.40 L354.10,381.07 L349.90,381.07Z" fill="#f88a0c"/>
<path d="M360.00,377.10 L362.10,380.77 L357.90,380.77Z" fill="#f88a0c"/>
<path d="M370.00,376.50 L372.10,380.18 L367.90,380.18Z" fill="#f88a0c"/>
<path d="M380.00,375.90 L382.10,379.57 L377.90,379.57Z" fill="#f88a0c"/>
<path d="M392.00,375.10 L394.10,378.77 L389.90,378.77Z" fill="#f88a0c"/>
<path d="M405.00,374.50 L407.10,378.18 L402.90,378.18Z" fill="#f88a0c"/>
<path d="M420.00,373.60 L422.10,377.27 L417.90,377.27Z" fill="#f88a0c"/>
<path d="M435.00,373.20 L437.10,376.88 L432.90,376.88Z" fill="#f88a0c"/>
<path d="M448.00,372.90 L450.10,376.57 L445.90,376.57Z" fill="#f88a0c"/>
<path d="M467.30,372.40 L469.40,376.07 L465.20,376.07Z" fill="#f88a0c"/>
<path d="M485.00,371.50 L487.10,375.18 L482.90,375.18Z" fill="#f88a0c"/>
<path d="M502.70,370.00 L504.80,373.68 L500.60,373.68Z" fill="#f88a0c"/>
<path d="M512.00,368.70 L514.10,372.38 L509.90,372.38Z" fill="#f88a0c"/>
<path d="M519.30,366.50 L521.40,370.18 L517.20,370.18Z" fill="#f88a0c"/>
<path d="M524.00,364.40 L526.10,368.07 L521.90,368.07Z" fill="#f88a0c"/>
<path d="M528.70,361.70 L530.80,365.38 L526.60,365.38Z" fill="#f88a0c"/>
<path d="M532.00,358.40 L534.10,362.07 L529.90,362.07Z" fill="#f88a0c"/>
<path d="M535.40,353.50 L537.50,357.18 L533.30,357.18Z" fill="#f88a0c"/>
<polyline points="535.40,355.60 533.00,358.00 529.00,361.50 524.00,364.50 518.00,367.00 505.00,370.50 480.00,373.00 450.00,374.20 420.00,375.00 390.00,376.50 360.00,378.20 340.00,379.00 327.50,379.50" fill="none" stroke="#f88a0c" stroke-width="1.5" stroke-linejoin="round"/>
<path d="M535.40,353.50 L537.50,357.18 L533.30,357.18Z" fill="#f88a0c"/>
<path d="M533.00,355.90 L535.10,359.57 L530.90,359.57Z" fill="#f88a0c"/>
<path d="M529.00,359.40 L531.10,363.07 L526.90,363.07Z" fill="#f88a0c"/>
<path d="M524.00,362.40 L526.10,366.07 L521.90,366.07Z" fill="#f88a0c"/>
<path d="M518.00,364.90 L520.10,368.57 L515.90,368.57Z" fill="#f88a0c"/>
<path d="M505.00,368.40 L507.10,372.07 L502.90,372.07Z" fill="#f88a0c"/>
<path d="M480.00,370.90 L482.10,374.57 L477.90,374.57Z" fill="#f88a0c"/>
<path d="M450.00,372.10 L452.10,375.77 L447.90,375.77Z" fill="#f88a0c"/>
<path d="M420.00,372.90 L422.10,376.57 L417.90,376.57Z" fill="#f88a0c"/>
<path d="M390.00,374.40 L392.10,378.07 L387.90,378.07Z" fill="#f88a0c"/>
<path d="M360.00,376.10 L362.10,379.77 L357.90,379.77Z" fill="#f88a0c"/>
<path d="M340.00,376.90 L342.10,380.57 L337.90,380.57Z" fill="#f88a0c"/>
<path d="M327.50,377.40 L329.60,381.07 L325.40,381.07Z" fill="#f88a0c"/>
<text x="438.9" y="332.6" font-size="11.8" fill="#0b6262" stroke="#0b6262" stroke-width="0.35">NiCoS/Ti<tspan font-size="6.8" dy="4.7">3</tspan><tspan dy="-4.7">C</tspan><tspan font-size="6.8" dy="4.7">2</tspan><tspan dy="-4.7">T</tspan><tspan font-size="7.2" dy="4.7" font-style="italic">x</tspan></text>
<text x="386.0" y="362.3" font-size="11.8" fill="#6e0e6e" stroke="#6e0e6e" stroke-width="0.35" textLength="34" lengthAdjust="spacingAndGlyphs">Ti<tspan font-size="6.8" dy="4.7">3</tspan><tspan dy="-4.7">C</tspan><tspan font-size="6.8" dy="4.7">2</tspan><tspan dy="-4.7">T</tspan><tspan font-size="7.2" dy="4.7" font-style="italic">x</tspan></text>
<text x="500.4" y="382.7" font-size="10.8" fill="#f88a0c" stroke="#f88a0c" stroke-width="0.35" text-anchor="start" >NiCoS</text>
<rect x="312.8" y="224.2" width="223.2" height="161.10000000000002" fill="none" stroke="#222" stroke-width="1.3"/>
<line x1="312.80" y1="385.3" x2="312.80" y2="388.1" stroke="#222" stroke-width="1.1"/>
<line x1="335.12" y1="385.3" x2="335.12" y2="387.3" stroke="#222" stroke-width="1.1"/>
<line x1="357.44" y1="385.3" x2="357.44" y2="388.1" stroke="#222" stroke-width="1.1"/>
<line x1="379.76" y1="385.3" x2="379.76" y2="387.3" stroke="#222" stroke-width="1.1"/>
<line x1="402.08" y1="385.3" x2="402.08" y2="388.1" stroke="#222" stroke-width="1.1"/>
<line x1="424.40" y1="385.3" x2="424.40" y2="387.3" stroke="#222" stroke-width="1.1"/>
<line x1="446.72" y1="385.3" x2="446.72" y2="388.1" stroke="#222" stroke-width="1.1"/>
<line x1="469.04" y1="385.3" x2="469.04" y2="387.3" stroke="#222" stroke-width="1.1"/>
<line x1="491.36" y1="385.3" x2="491.36" y2="388.1" stroke="#222" stroke-width="1.1"/>
<line x1="513.68" y1="385.3" x2="513.68" y2="387.3" stroke="#222" stroke-width="1.1"/>
<line x1="536.00" y1="385.3" x2="536.00" y2="388.1" stroke="#222" stroke-width="1.1"/>
<text x="312.80" y="398.2" font-size="9.6" fill="#1a1a1a" stroke="#1a1a1a" stroke-width="0.35" text-anchor="middle" >0.0</text>
<text x="357.44" y="398.2" font-size="9.6" fill="#1a1a1a" stroke="#1a1a1a" stroke-width="0.35" text-anchor="middle" >0.2</text>
<text x="402.08" y="398.2" font-size="9.6" fill="#1a1a1a" stroke="#1a1a1a" stroke-width="0.35" text-anchor="middle" >0.4</text>
<text x="446.72" y="398.2" font-size="9.6" fill="#1a1a1a" stroke="#1a1a1a" stroke-width="0.35" text-anchor="middle" >0.6</text>
<text x="491.36" y="398.2" font-size="9.6" fill="#1a1a1a" stroke="#1a1a1a" stroke-width="0.35" text-anchor="middle" >0.8</text>
<text x="536.00" y="398.2" font-size="9.6" fill="#1a1a1a" stroke="#1a1a1a" stroke-width="0.35" text-anchor="middle" >1.0</text>
<line x1="310.0" y1="385.30" x2="312.8" y2="385.30" stroke="#222" stroke-width="1.1"/>
<line x1="310.8" y1="370.63" x2="312.8" y2="370.63" stroke="#222" stroke-width="1.1"/>
<line x1="310.0" y1="355.96" x2="312.8" y2="355.96" stroke="#222" stroke-width="1.1"/>
<line x1="310.8" y1="341.29" x2="312.8" y2="341.29" stroke="#222" stroke-width="1.1"/>
<line x1="310.0" y1="326.62" x2="312.8" y2="326.62" stroke="#222" stroke-width="1.1"/>
<line x1="310.8" y1="311.95" x2="312.8" y2="311.95" stroke="#222" stroke-width="1.1"/>
<line x1="310.0" y1="297.28" x2="312.8" y2="297.28" stroke="#222" stroke-width="1.1"/>
<line x1="310.8" y1="282.61" x2="312.8" y2="282.61" stroke="#222" stroke-width="1.1"/>
<line x1="310.0" y1="267.94" x2="312.8" y2="267.94" stroke="#222" stroke-width="1.1"/>
<line x1="310.8" y1="253.27" x2="312.8" y2="253.27" stroke="#222" stroke-width="1.1"/>
<line x1="310.0" y1="238.60" x2="312.8" y2="238.60" stroke="#222" stroke-width="1.1"/>
<text x="306.0" y="385.30" font-size="9.8" fill="#1a1a1a" stroke="#1a1a1a" stroke-width="0.35" text-anchor="middle" transform="rotate(-90 306.0 385.30)">0</text>
<text x="306.0" y="355.96" font-size="9.8" fill="#1a1a1a" stroke="#1a1a1a" stroke-width="0.35" text-anchor="middle" transform="rotate(-90 306.0 355.96)">10</text>
<text x="306.0" y="326.62" font-size="9.8" fill="#1a1a1a" stroke="#1a1a1a" stroke-width="0.35" text-anchor="middle" transform="rotate(-90 306.0 326.62)">20</text>
<text x="306.0" y="297.28" font-size="9.8" fill="#1a1a1a" stroke="#1a1a1a" stroke-width="0.35" text-anchor="middle" transform="rotate(-90 306.0 297.28)">30</text>
<text x="306.0" y="267.94" font-size="9.8" fill="#1a1a1a" stroke="#1a1a1a" stroke-width="0.35" text-anchor="middle" transform="rotate(-90 306.0 267.94)">40</text>
<text x="306.0" y="238.60" font-size="9.8" fill="#1a1a1a" stroke="#1a1a1a" stroke-width="0.35" text-anchor="middle" transform="rotate(-90 306.0 238.60)">50</text>
<text x="290" y="313.4" font-size="12.5" fill="#1a1a1a" stroke="#1a1a1a" stroke-width="0.35" text-anchor="middle" transform="rotate(-90 290 313.4)">Volume adsorbed (cm<tspan font-size="7.5" dy="-5">3</tspan><tspan dy="5"> STP/g)</tspan></text>
<text x="424.4" y="417.3" font-size="12.1" fill="#1a1a1a" stroke="#1a1a1a" stroke-width="0.35" text-anchor="middle">Relative pressure (<tspan font-style="italic">P</tspan>/<tspan font-style="italic">P</tspan><tspan font-size="7.5" dy="3">0</tspan><tspan dy="-3">)</tspan></text>
<text x="279.0" y="207.0" font-size="17.2" fill="#1a1a1a" stroke="#1a1a1a" stroke-width="0.35" text-anchor="start" textLength="26" lengthAdjust="spacingAndGlyphs">(H)</text>
</svg></body></html>
